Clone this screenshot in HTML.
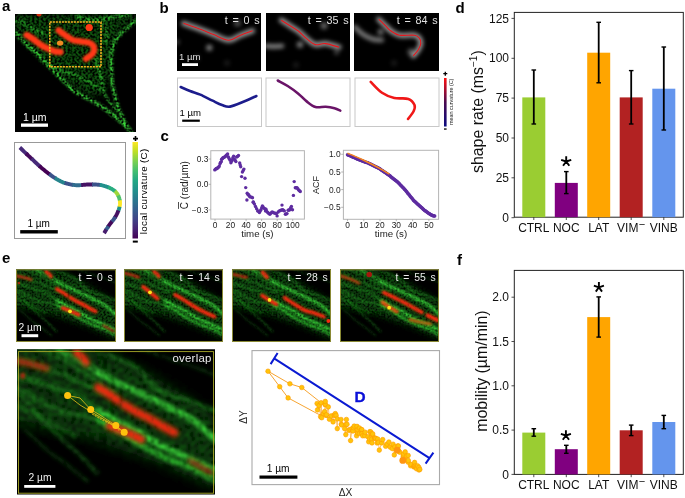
<!DOCTYPE html><html><head><meta charset="utf-8"><style>html,body{margin:0;padding:0;background:#fff;width:685px;height:498px;overflow:hidden}svg{display:block;will-change:transform}text{font-family:'Liberation Sans',sans-serif}</style></head><body>
<svg width="685" height="498" viewBox="0 0 685 498">
<defs>
<filter id="b05" filterUnits="userSpaceOnUse" x="-1000" y="-1000" width="3000" height="3000"><feGaussianBlur stdDeviation="0.6"/></filter>
<filter id="b1" filterUnits="userSpaceOnUse" x="-1000" y="-1000" width="3000" height="3000"><feGaussianBlur stdDeviation="1"/></filter>
<filter id="b15" filterUnits="userSpaceOnUse" x="-1000" y="-1000" width="3000" height="3000"><feGaussianBlur stdDeviation="1.5"/></filter>
<filter id="b2" filterUnits="userSpaceOnUse" x="-1000" y="-1000" width="3000" height="3000"><feGaussianBlur stdDeviation="2"/></filter>
<filter id="b3" filterUnits="userSpaceOnUse" x="-1000" y="-1000" width="3000" height="3000"><feGaussianBlur stdDeviation="3"/></filter>
<filter id="grain" filterUnits="userSpaceOnUse" x="-1000" y="-1000" width="3000" height="3000"><feTurbulence type="fractalNoise" baseFrequency="0.45" numOctaves="1" seed="4" result="n"/><feColorMatrix in="n" type="matrix" values="0 0 0 0 0  0 0 0 0 0  0 0 0 0 0  0 0 0 2.8 -0.85" result="na"/><feComposite in="SourceGraphic" in2="na" operator="in" result="c"/><feGaussianBlur in="c" stdDeviation="0.45"/></filter>
<filter id="grain2" filterUnits="userSpaceOnUse" x="-1000" y="-1000" width="3000" height="3000"><feTurbulence type="fractalNoise" baseFrequency="0.5" numOctaves="1" seed="9" result="n"/><feColorMatrix in="n" type="matrix" values="0 0 0 0 0  0 0 0 0 0  0 0 0 0 0  0 0 0 1.6 -0.1" result="na"/><feComposite in="SourceGraphic" in2="na" operator="in" result="c"/><feGaussianBlur in="c" stdDeviation="0.5"/></filter>
<filter id="b08" filterUnits="userSpaceOnUse" x="-1000" y="-1000" width="3000" height="3000"><feGaussianBlur stdDeviation="0.8"/></filter>
<filter id="grain3" filterUnits="userSpaceOnUse" x="-1000" y="-1000" width="3000" height="3000"><feTurbulence type="fractalNoise" baseFrequency="0.5" numOctaves="1" seed="2" result="n"/><feColorMatrix in="n" type="matrix" values="0 0 0 0 0  0 0 0 0 0  0 0 0 0 0  0 0 0 2.2 -0.45" result="na"/><feComposite in="SourceGraphic" in2="na" operator="in" result="c"/><feGaussianBlur in="c" stdDeviation="0.7"/></filter>
<filter id="grain4" filterUnits="userSpaceOnUse" x="-1000" y="-1000" width="3000" height="3000"><feTurbulence type="fractalNoise" baseFrequency="0.5" numOctaves="1" seed="12" result="n"/><feColorMatrix in="n" type="matrix" values="0 0 0 0 0  0 0 0 0 0  0 0 0 0 0  0 0 0 1.2 0.5" result="na"/><feComposite in="SourceGraphic" in2="na" operator="in" result="c"/><feGaussianBlur in="c" stdDeviation="0.4"/></filter>
<linearGradient id="vir" x1="0" y1="1" x2="0" y2="0"><stop offset="0.0" stop-color="#440154"/><stop offset="0.1" stop-color="#482475"/><stop offset="0.2" stop-color="#414487"/><stop offset="0.3" stop-color="#355f8d"/><stop offset="0.4" stop-color="#2a788e"/><stop offset="0.5" stop-color="#21918c"/><stop offset="0.6" stop-color="#22a884"/><stop offset="0.7" stop-color="#44bf70"/><stop offset="0.8" stop-color="#7ad151"/><stop offset="0.9" stop-color="#bddf26"/><stop offset="1.0" stop-color="#fde725"/></linearGradient>
<linearGradient id="rb" x1="0" y1="1" x2="0" y2="0"><stop offset="0" stop-color="#0a0a80"/><stop offset="0.5" stop-color="#4a0a50"/><stop offset="1" stop-color="#ff1010"/></linearGradient>
<clipPath id="ca"><rect x="15" y="14" width="121" height="118"/></clipPath>
<clipPath id="cb1"><rect x="177" y="13" width="84" height="58"/></clipPath>
<clipPath id="cb2"><rect x="266" y="13" width="84" height="58"/></clipPath>
<clipPath id="cb3"><rect x="354" y="13" width="85" height="58"/></clipPath>
<clipPath id="ce1"><rect x="16" y="269.3" width="100" height="72.7"/></clipPath>
<clipPath id="ce2"><rect x="124" y="269.3" width="99" height="72.7"/></clipPath>
<clipPath id="ce3"><rect x="232" y="269.3" width="99" height="72.7"/></clipPath>
<clipPath id="ce4"><rect x="340" y="269.3" width="99" height="72.7"/></clipPath>
<clipPath id="ceo"><rect x="17" y="349.3" width="198" height="145.3"/></clipPath>
</defs>
<text x="2" y="11" font-size="15" text-anchor="start" font-weight="bold" fill="#000" >a</text>
<text x="159.5" y="13" font-size="15" text-anchor="start" font-weight="bold" fill="#000" >b</text>
<text x="160.5" y="141.3" font-size="15" text-anchor="start" font-weight="bold" fill="#000" >c</text>
<text x="455.5" y="12.5" font-size="15" text-anchor="start" font-weight="bold" fill="#000" >d</text>
<text x="2" y="263" font-size="15" text-anchor="start" font-weight="bold" fill="#000" >e</text>
<text x="457" y="264.5" font-size="15" text-anchor="start" font-weight="bold" fill="#000" >f</text>
<g clip-path="url(#ca)"><rect x="15" y="14" width="121" height="118" fill="#000"/>
<g transform="translate(15,14)">
<g filter="url(#grain)"><polygon points="0,0 121,0 121,5 106,14 98,30 95,50 93,70 88,80 76,82 58,72 40,57 20,38 0,16" fill="#105210" filter="url(#b3)"/></g>
<g filter="url(#grain)">
<path d="M0.50,18.30C2.08,20.08 6.50,25.48 10.00,29.00C13.50,32.52 18.00,36.07 21.50,39.40C25.00,42.73 27.72,45.72 31.00,49.00C34.28,52.28 38.03,55.93 41.20,59.10C44.37,62.27 47.18,65.18 50.00,68.00C52.82,70.82 55.10,73.67 58.10,76.00C61.10,78.33 64.72,80.13 68.00,82.00C71.28,83.87 74.80,85.53 77.80,87.20C80.80,88.87 83.20,90.12 86.00,92.00C88.80,93.88 91.77,96.33 94.60,98.50C97.43,100.67 100.18,102.67 103.00,105.00C105.82,107.33 109.17,110.17 111.50,112.50C113.83,114.83 116.08,117.92 117.00,119.00" stroke="#3ee03e" stroke-width="3.75" fill="none" filter="url(#b08)"/>
<path d="M121.00,6.00C119.50,7.33 115.00,11.25 112.00,14.00C109.00,16.75 105.33,19.50 103.00,22.50C100.67,25.50 99.17,28.75 98.00,32.00C96.83,35.25 96.25,38.17 96.00,42.00C95.75,45.83 96.25,50.33 96.50,55.00C96.75,59.67 96.92,65.50 97.50,70.00C98.08,74.50 99.08,78.17 100.00,82.00C100.92,85.83 101.67,89.33 103.00,93.00C104.33,96.67 106.58,100.75 108.00,104.00C109.42,107.25 110.92,111.08 111.50,112.50" stroke="#3ee03e" stroke-width="3.25" fill="none" filter="url(#b08)"/>
<path d="M80.60,42.20C81.00,43.83 82.10,48.37 83.00,52.00C83.90,55.63 85.00,59.53 86.00,64.00C87.00,68.47 87.33,74.47 89.00,78.80C90.67,83.13 93.67,86.72 96.00,90.00C98.33,93.28 101.83,97.08 103.00,98.50" stroke="#30c030" stroke-width="2.50" fill="none" filter="url(#b08)"/>
<path d="M25.00,46.00C27.17,47.17 33.83,51.00 38.00,53.00C42.17,55.00 46.00,56.50 50.00,58.00C54.00,59.50 57.83,60.33 62.00,62.00C66.17,63.67 71.17,65.67 75.00,68.00C78.83,70.33 83.33,74.67 85.00,76.00" stroke="#2aa82a" stroke-width="2.50" fill="none" filter="url(#b08)"/>
<path d="M0.00,6.00C1.67,6.67 6.67,8.33 10.00,10.00C13.33,11.67 16.67,14.33 20.00,16.00C23.33,17.67 28.33,19.33 30.00,20.00" stroke="#2aa82a" stroke-width="3.00" fill="none" filter="url(#b08)"/>
<path d="M60.00,2.00C62.50,2.67 70.33,5.50 75.00,6.00C79.67,6.50 83.83,5.50 88.00,5.00C92.17,4.50 95.50,3.83 100.00,3.00C104.50,2.17 112.50,0.50 115.00,0.00" stroke="#30c030" stroke-width="3.00" fill="none" filter="url(#b08)"/>
<path d="M88.00,8.00C88.67,10.00 91.67,16.33 92.00,20.00C92.33,23.67 90.33,28.33 90.00,30.00" stroke="#2aa82a" stroke-width="2.50" fill="none" filter="url(#b08)"/>
</g>
<path d="M11.70,21.10C12.75,21.75 15.62,23.35 18.00,25.00C20.38,26.65 23.33,29.33 26.00,31.00C28.67,32.67 31.67,33.92 34.00,35.00C36.33,36.08 38.10,37.00 40.00,37.50C41.90,38.00 44.50,37.92 45.40,38.00" stroke="#ff3812" stroke-width="6.5" stroke-linecap="round" stroke-linejoin="round" fill="none" filter="url(#b1)"/>
<path d="M43.60,16.30C44.68,17.12 47.68,19.57 50.10,21.20C52.52,22.83 55.27,25.03 58.10,26.10C60.93,27.17 64.25,27.07 67.10,27.60C69.95,28.13 73.18,28.22 75.20,29.30C77.22,30.38 78.87,32.30 79.20,34.10C79.53,35.90 78.57,38.32 77.20,40.10C75.83,41.88 72.03,44.02 71.00,44.80" stroke="#ff3812" stroke-width="6.3" stroke-linecap="round" stroke-linejoin="round" fill="none" filter="url(#b1)"/>
<circle cx="74.2" cy="13.5" r="3.6" fill="#ff3812" filter="url(#b05)"/>
<ellipse cx="45.1" cy="29.1" rx="3.2" ry="2.7" fill="#f08a20" filter="url(#b05)"/>
<circle cx="24" cy="0" r="2.5" fill="#d02a10" filter="url(#b05)"/>
</g>
<rect x="49.8" y="22" width="51.2" height="44.7" fill="none" stroke="#f2b020" stroke-width="1.6" stroke-dasharray="2.1,0.9"/>
<text x="23" y="120.6" font-size="10.5" text-anchor="start" font-weight="normal" fill="#fff" >1 µm</text>
<rect x="21" y="123.5" width="27" height="3.3" fill="#fff"/>
</g>
<rect x="14.5" y="142.5" width="111" height="96" fill="#fff" stroke="#999" stroke-width="1"/>
<polyline points="19.8,147.5 20.4,148.0 21.1,148.7 21.9,149.5 22.8,150.4 23.8,151.4 24.9,152.4 26.0,153.4 26.0,153.4 27.2,154.5" stroke="#472a79" stroke-width="3.9" stroke-linejoin="round" fill="none"/>
<polyline points="26.0,153.4 27.2,154.5 28.3,155.6 29.4,156.6 30.5,157.7 31.5,158.6 31.5,158.6 32.5,159.5" stroke="#45085b" stroke-width="3.9" stroke-linejoin="round" fill="none"/>
<polyline points="31.5,158.6 32.5,159.5 33.5,160.4 34.4,161.3 35.4,162.3 36.4,163.2 37.4,164.1 38.3,165.0 39.3,165.9 39.3,165.9 40.3,166.8" stroke="#472a79" stroke-width="3.9" stroke-linejoin="round" fill="none"/>
<polyline points="39.3,165.9 40.3,166.8 41.2,167.6 42.2,168.5 43.2,169.3 44.2,170.1 45.2,170.9 46.2,171.7 47.2,172.5 48.2,173.3 49.2,174.0 49.2,174.0 50.2,174.7" stroke="#440154" stroke-width="3.9" stroke-linejoin="round" fill="none"/>
<polyline points="49.2,174.0 50.2,174.7 51.1,175.5 52.1,176.1 53.1,176.8 54.0,177.4 54.9,178.0 54.9,178.0 55.8,178.5" stroke="#3b528a" stroke-width="3.9" stroke-linejoin="round" fill="none"/>
<polyline points="54.9,178.0 55.8,178.5 56.6,179.1 57.4,179.6 58.2,180.0 59.0,180.4 59.8,180.8 60.5,181.2 61.3,181.6 62.1,181.9 62.9,182.3 63.7,182.6 64.6,182.9 64.6,182.9 65.5,183.2" stroke="#26848d" stroke-width="3.9" stroke-linejoin="round" fill="none"/>
<polyline points="64.6,182.9 65.5,183.2 66.4,183.5 67.4,183.7 68.4,184.0 69.3,184.2 70.3,184.4 71.3,184.6 72.3,184.8 72.3,184.8 73.3,184.9" stroke="#3b528a" stroke-width="3.9" stroke-linejoin="round" fill="none"/>
<polyline points="72.3,184.8 73.3,184.9 74.3,185.0 75.3,185.1 76.3,185.2 77.3,185.2 78.2,185.2 79.2,185.2 80.2,185.1 81.2,185.1 81.2,185.1 82.2,185.0" stroke="#306c8e" stroke-width="3.9" stroke-linejoin="round" fill="none"/>
<polyline points="81.2,185.1 82.2,185.0 83.1,184.9 84.1,184.8 85.1,184.7 86.0,184.6 87.0,184.5 88.0,184.5 89.0,184.5 90.0,184.5 91.0,184.5 92.0,184.5 92.0,184.5 93.0,184.5" stroke="#461264" stroke-width="3.9" stroke-linejoin="round" fill="none"/>
<polyline points="92.0,184.5 93.0,184.5 94.0,184.5 95.0,184.5 95.9,184.5 96.9,184.6 97.9,184.7 98.8,184.8 99.7,184.9 99.7,184.9 100.6,185.0" stroke="#3b528a" stroke-width="3.9" stroke-linejoin="round" fill="none"/>
<polyline points="99.7,184.9 100.6,185.0 101.5,185.2 102.3,185.4 103.2,185.6 104.0,185.8 104.9,186.1 105.7,186.3 106.4,186.6 107.2,186.9 108.0,187.2 108.0,187.2 108.7,187.5" stroke="#21918c" stroke-width="3.9" stroke-linejoin="round" fill="none"/>
<polyline points="108.0,187.2 108.7,187.5 109.4,187.8 110.1,188.1 110.8,188.5 111.4,188.8 112.0,189.1 112.6,189.5 113.2,189.9 113.8,190.3 114.4,190.7 114.9,191.1 114.9,191.1 115.4,191.6" stroke="#29ad80" stroke-width="3.9" stroke-linejoin="round" fill="none"/>
<polyline points="114.9,191.1 115.4,191.6 115.9,192.1 116.3,192.6 116.7,193.1 117.1,193.7 117.5,194.3 117.9,195.0 118.2,195.6 118.2,195.6 118.5,196.3" stroke="#9cd83c" stroke-width="3.9" stroke-linejoin="round" fill="none"/>
<polyline points="118.2,195.6 118.5,196.3 118.8,197.0 119.1,197.7 119.3,198.4 119.5,199.1 119.7,199.7 119.8,200.4 119.8,200.4 119.9,201.0" stroke="#4fc36a" stroke-width="3.9" stroke-linejoin="round" fill="none"/>
<polyline points="119.8,200.4 119.9,201.0 120.0,201.7 120.0,202.3 120.0,203.0 120.0,203.6 120.0,204.2 119.9,204.9 119.8,205.5 119.7,206.2 119.5,206.8 119.5,206.8 119.4,207.5" stroke="#fde725" stroke-width="3.9" stroke-linejoin="round" fill="none"/>
<polyline points="119.5,206.8 119.4,207.5 119.2,208.2 119.0,208.9 118.8,209.6 118.5,210.4 118.5,210.4 118.2,211.1" stroke="#21918c" stroke-width="3.9" stroke-linejoin="round" fill="none"/>
<polyline points="118.5,210.4 118.2,211.1 117.9,211.8 117.6,212.6 117.2,213.4 116.9,214.1 116.5,214.8 116.1,215.6 115.7,216.3 115.3,217.0 115.3,217.0 114.9,217.7" stroke="#461264" stroke-width="3.9" stroke-linejoin="round" fill="none"/>
<polyline points="115.3,217.0 114.9,217.7 114.4,218.4 114.0,219.0 113.5,219.7 113.0,220.3 112.4,220.9 111.9,221.6 111.9,221.6 111.4,222.2" stroke="#3b528a" stroke-width="3.9" stroke-linejoin="round" fill="none"/>
<polyline points="111.9,221.6 111.4,222.2 110.9,222.8 110.4,223.5 109.9,224.1 109.4,224.8 108.9,225.5 108.4,226.3 108.4,226.3 107.9,227.1" stroke="#45085b" stroke-width="3.9" stroke-linejoin="round" fill="none"/>
<polyline points="108.4,226.3 107.9,227.1 107.4,227.9 106.8,228.7 106.3,229.5 106.3,229.5 105.8,230.3" stroke="#355f8d" stroke-width="3.9" stroke-linejoin="round" fill="none"/>
<polyline points="106.3,229.5 105.8,230.3 105.4,231.0 105.0,231.7 104.6,232.3 104.3,232.8 104.0,233.2" stroke="#471d6e" stroke-width="3.9" stroke-linejoin="round" fill="none"/>
<text x="27.5" y="227.1" font-size="10" text-anchor="start" font-weight="normal" fill="#000" >1 µm</text>
<rect x="20.2" y="230.1" width="37.6" height="3.4" fill="#000"/>
<rect x="132.5" y="142" width="5.5" height="96.5" fill="url(#vir)"/>
<path d="M133,138.6h5M135.5,136.1v5" stroke="#000" stroke-width="1.6"/>
<rect x="132.8" y="240.6" width="5" height="2" fill="#000"/>
<text x="0" y="0" font-size="9.8" text-anchor="middle" font-weight="normal" fill="#000" letter-spacing="0.3" transform="translate(147.1,191.4) rotate(-90)">local curvature (C)</text>
<g clip-path="url(#cb1)"><rect x="177" y="13" width="84" height="58" fill="#000"/>
<g transform="translate(177,13)">
<circle cx="32.3" cy="34.8" r="3" fill="#fff" opacity="0.55" filter="url(#b2)"/>
<circle cx="60.5" cy="10.3" r="3.5" fill="#fff" opacity="0.3" filter="url(#b2)"/>
<circle cx="0" cy="29" r="2.5" fill="#fff" opacity="0.3" filter="url(#b2)"/>
<circle cx="20" cy="45" r="3" fill="#fff" opacity="0.12" filter="url(#b2)"/>
<circle cx="50" cy="50" r="3" fill="#fff" opacity="0.1" filter="url(#b2)"/>
<path d="M6.50,10.30C9.43,11.35 19.07,14.72 24.10,16.60C29.13,18.48 32.10,19.83 36.70,21.60C41.30,23.37 47.32,27.05 51.70,27.20C56.08,27.35 59.02,24.07 63.00,22.50C66.98,20.93 73.50,18.58 75.60,17.80" stroke="#fff" stroke-opacity="0.62" stroke-width="5" stroke-linecap="round" fill="none" filter="url(#b2)"/>
<path d="M6.50,10.30C9.43,11.35 19.07,14.72 24.10,16.60C29.13,18.48 32.10,19.83 36.70,21.60C41.30,23.37 47.32,27.05 51.70,27.20C56.08,27.35 59.02,24.07 63.00,22.50C66.98,20.93 73.50,18.58 75.60,17.80" stroke="#e8161c" stroke-width="1.1" fill="none"/>
</g>
<text x="259.6" y="23.6" font-size="10.8" word-spacing="1.7" text-anchor="end" fill="#e0e0e0">t = 0 s</text>
</g>
<g clip-path="url(#cb2)"><rect x="266" y="13" width="84" height="58" fill="#000"/>
<g transform="translate(266,13)">
<circle cx="34" cy="31.6" r="3.2" fill="#fff" opacity="0.5" filter="url(#b2)"/>
<circle cx="58" cy="12.8" r="3.5" fill="#fff" opacity="0.4" filter="url(#b2)"/>
<circle cx="70.6" cy="39.2" r="2.5" fill="#fff" opacity="0.3" filter="url(#b2)"/>
<circle cx="30" cy="52" r="3" fill="#fff" opacity="0.1" filter="url(#b2)"/>
<path d="M0.00,33.00C1.33,33.08 5.33,33.50 8.00,33.50C10.67,33.50 14.67,33.08 16.00,33.00" stroke="#fff" stroke-opacity="0.55" stroke-width="4.5" stroke-linecap="round" fill="none" filter="url(#b2)"/>
<path d="M15.30,7.20C16.77,8.13 21.17,10.92 24.10,12.80C27.03,14.68 30.18,16.40 32.90,18.50C35.62,20.60 37.68,23.22 40.40,25.40C43.12,27.58 46.05,30.73 49.20,31.60C52.35,32.47 55.32,30.17 59.30,30.60C63.28,31.03 70.80,33.60 73.10,34.20" stroke="#fff" stroke-opacity="0.62" stroke-width="5" stroke-linecap="round" fill="none" filter="url(#b2)"/>
<path d="M15.30,7.20C16.77,8.13 21.17,10.92 24.10,12.80C27.03,14.68 30.18,16.40 32.90,18.50C35.62,20.60 37.68,23.22 40.40,25.40C43.12,27.58 46.05,30.73 49.20,31.60C52.35,32.47 55.32,30.17 59.30,30.60C63.28,31.03 70.80,33.60 73.10,34.20" stroke="#e8161c" stroke-width="1.1" fill="none"/>
</g>
<text x="348.6" y="23.6" font-size="10.8" word-spacing="1.7" text-anchor="end" fill="#e0e0e0">t = 35 s</text>
</g>
<g clip-path="url(#cb3)"><rect x="354" y="13" width="85" height="58" fill="#000"/>
<g transform="translate(354,13)">
<circle cx="26.6" cy="18.9" r="3" fill="#fff" opacity="0.45" filter="url(#b2)"/>
<circle cx="57" cy="39" r="3.5" fill="#fff" opacity="0.35" filter="url(#b2)"/>
<circle cx="40" cy="50" r="3" fill="#fff" opacity="0.1" filter="url(#b2)"/>
<path d="M1.00,14.00C1.83,14.83 4.23,17.48 6.00,19.00C7.77,20.52 9.27,21.85 11.60,23.10C13.93,24.35 17.28,25.87 20.00,26.50C22.72,27.13 26.58,26.83 27.90,26.90" stroke="#fff" stroke-opacity="0.5" stroke-width="4.5" stroke-linecap="round" fill="none" filter="url(#b2)"/>
<path d="M24.70,6.30C25.85,7.38 29.60,10.88 31.60,12.80C33.60,14.72 34.38,16.23 36.70,17.80C39.02,19.37 41.53,21.47 45.50,22.20C49.47,22.93 57.17,21.67 60.50,22.20C63.83,22.73 64.45,24.03 65.50,25.40C66.55,26.77 67.00,28.52 66.80,30.40C66.60,32.28 65.55,34.62 64.30,36.70C63.05,38.78 60.13,41.87 59.30,42.90" stroke="#fff" stroke-opacity="0.62" stroke-width="5" stroke-linecap="round" fill="none" filter="url(#b2)"/>
<path d="M24.70,6.30C25.85,7.38 29.60,10.88 31.60,12.80C33.60,14.72 34.38,16.23 36.70,17.80C39.02,19.37 41.53,21.47 45.50,22.20C49.47,22.93 57.17,21.67 60.50,22.20C63.83,22.73 64.45,24.03 65.50,25.40C66.55,26.77 67.00,28.52 66.80,30.40C66.60,32.28 65.55,34.62 64.30,36.70C63.05,38.78 60.13,41.87 59.30,42.90" stroke="#e8161c" stroke-width="1.1" fill="none"/>
</g>
<text x="437.6" y="23.6" font-size="10.8" word-spacing="1.7" text-anchor="end" fill="#e0e0e0">t = 84 s</text>
</g>
<text x="179" y="60" font-size="9.6" text-anchor="start" font-weight="normal" fill="#ddd" >1 µm</text>
<rect x="182" y="63.2" width="16" height="2.8" fill="#fff"/>
<rect x="177.5" y="78" width="84" height="48.5" fill="#fff" stroke="#c8c8c8" stroke-width="1"/>
<rect x="266.0" y="78" width="84" height="48.5" fill="#fff" stroke="#c8c8c8" stroke-width="1"/>
<rect x="355.0" y="78" width="84" height="48.5" fill="#fff" stroke="#c8c8c8" stroke-width="1"/>
<path d="M180.70,87.00C182.25,87.67 186.73,89.73 190.00,91.00C193.27,92.27 196.53,92.98 200.30,94.60C204.07,96.22 208.98,98.97 212.60,100.70C216.22,102.43 219.10,104.02 222.00,105.00C224.90,105.98 226.33,107.18 230.00,106.60C233.67,106.02 239.60,103.27 244.00,101.50C248.40,99.73 254.33,96.92 256.40,96.00" stroke="#1c1c8c" stroke-width="2.6" stroke-linecap="round" fill="none"/>
<path d="M277.80,80.50C279.45,81.42 284.33,83.85 287.70,86.00C291.07,88.15 294.83,90.83 298.00,93.40C301.17,95.97 303.78,99.13 306.70,101.40C309.62,103.67 312.33,106.10 315.50,107.00C318.67,107.90 322.53,106.60 325.70,106.80C328.87,107.00 332.07,107.57 334.50,108.20C336.93,108.83 339.33,110.20 340.30,110.60" stroke="#6a1468" stroke-width="2.6" stroke-linecap="round" fill="none"/>
<path d="M370.70,81.90C372.58,83.72 378.07,90.12 382.00,92.80C385.93,95.48 389.92,96.98 394.30,98.00C398.68,99.02 404.93,97.73 408.30,98.90C411.67,100.07 413.62,102.95 414.50,105.00C415.38,107.05 414.68,108.87 413.60,111.20C412.52,113.53 408.93,117.70 408.00,119.00" stroke="#f01818" stroke-width="2.6" stroke-linecap="round" fill="none"/>
<text x="179.6" y="116.3" font-size="9.6" text-anchor="start" font-weight="normal" fill="#000" >1 µm</text>
<rect x="182.2" y="119.6" width="17.6" height="2.2" fill="#000"/>
<rect x="444" y="78" width="2.6" height="48.5" fill="url(#rb)"/>
<path d="M443.3,73.7h4M445.3,71.7v4" stroke="#000" stroke-width="1.3"/>
<rect x="444" y="128.4" width="2.6" height="1.3" fill="#000"/>
<text x="0" y="0" font-size="5.4" text-anchor="middle" font-weight="normal" fill="#222" transform="translate(453.4,101.8) rotate(-90)">mean curvature (C)</text>
<rect x="210.8" y="150.7" width="93.6" height="68.4" fill="none" stroke="#b4b4b4" stroke-width="1"/>
<line x1="208.6" y1="159" x2="210.8" y2="159" stroke="#999" stroke-width="0.7"/>
<text x="208.3" y="161.95" font-size="8.4" text-anchor="end" font-weight="normal" fill="#222" >0.3</text>
<line x1="208.6" y1="184.3" x2="210.8" y2="184.3" stroke="#999" stroke-width="0.7"/>
<text x="208.3" y="187.25" font-size="8.4" text-anchor="end" font-weight="normal" fill="#222" >0.0</text>
<line x1="208.6" y1="209.9" x2="210.8" y2="209.9" stroke="#999" stroke-width="0.7"/>
<text x="208.3" y="212.85" font-size="8.4" text-anchor="end" font-weight="normal" fill="#222" >−0.3</text>
<line x1="215.0" y1="219.1" x2="215.0" y2="221" stroke="#999" stroke-width="0.7"/>
<text x="215.0" y="227.6" font-size="8.4" text-anchor="middle" font-weight="normal" fill="#222" >0</text>
<line x1="230.5" y1="219.1" x2="230.5" y2="221" stroke="#999" stroke-width="0.7"/>
<text x="230.5" y="227.6" font-size="8.4" text-anchor="middle" font-weight="normal" fill="#222" >20</text>
<line x1="246.1" y1="219.1" x2="246.1" y2="221" stroke="#999" stroke-width="0.7"/>
<text x="246.1" y="227.6" font-size="8.4" text-anchor="middle" font-weight="normal" fill="#222" >40</text>
<line x1="261.6" y1="219.1" x2="261.6" y2="221" stroke="#999" stroke-width="0.7"/>
<text x="261.6" y="227.6" font-size="8.4" text-anchor="middle" font-weight="normal" fill="#222" >60</text>
<line x1="277.2" y1="219.1" x2="277.2" y2="221" stroke="#999" stroke-width="0.7"/>
<text x="277.2" y="227.6" font-size="8.4" text-anchor="middle" font-weight="normal" fill="#222" >80</text>
<line x1="292.7" y1="219.1" x2="292.7" y2="221" stroke="#999" stroke-width="0.7"/>
<text x="292.7" y="227.6" font-size="8.4" text-anchor="middle" font-weight="normal" fill="#222" >100</text>
<text x="257.4" y="237" font-size="9.7" text-anchor="middle" font-weight="normal" fill="#222" >time (s)</text>
<g transform="translate(188,185.2) rotate(-90)"><text x="0" y="0" font-size="10" text-anchor="middle" fill="#222">C (rad/µm)</text><line x1="-23.7" y1="-9.5" x2="-16.8" y2="-9.5" stroke="#222" stroke-width="0.8"/></g>
<circle cx="214.8" cy="169.9" r="1.7" fill="#5e2ca0"/>
<circle cx="215.5" cy="169.2" r="1.7" fill="#5e2ca0"/>
<circle cx="216.3" cy="168.4" r="1.7" fill="#5e2ca0"/>
<circle cx="217.2" cy="168.5" r="1.7" fill="#5e2ca0"/>
<circle cx="217.8" cy="167.6" r="1.7" fill="#5e2ca0"/>
<circle cx="218.5" cy="167.2" r="1.7" fill="#5e2ca0"/>
<circle cx="219.3" cy="166.1" r="1.7" fill="#5e2ca0"/>
<circle cx="220" cy="163.8" r="1.7" fill="#5e2ca0"/>
<circle cx="220.6" cy="162.5" r="1.7" fill="#5e2ca0"/>
<circle cx="221.3" cy="161.6" r="1.7" fill="#5e2ca0"/>
<circle cx="221.6" cy="159.3" r="1.7" fill="#5e2ca0"/>
<circle cx="222.3" cy="158.7" r="1.7" fill="#5e2ca0"/>
<circle cx="223" cy="157.8" r="1.7" fill="#5e2ca0"/>
<circle cx="223.8" cy="157.5" r="1.7" fill="#5e2ca0"/>
<circle cx="224.6" cy="157" r="1.7" fill="#5e2ca0"/>
<circle cx="225.4" cy="156.4" r="1.7" fill="#5e2ca0"/>
<circle cx="226.1" cy="155.5" r="1.7" fill="#5e2ca0"/>
<circle cx="226.8" cy="155" r="1.7" fill="#5e2ca0"/>
<circle cx="227.6" cy="154" r="1.7" fill="#5e2ca0"/>
<circle cx="228.4" cy="157" r="1.7" fill="#5e2ca0"/>
<circle cx="229.1" cy="158.5" r="1.7" fill="#5e2ca0"/>
<circle cx="229.9" cy="160" r="1.7" fill="#5e2ca0"/>
<circle cx="230.9" cy="162.8" r="1.7" fill="#5e2ca0"/>
<circle cx="231.5" cy="161.2" r="1.7" fill="#5e2ca0"/>
<circle cx="232.1" cy="160" r="1.7" fill="#5e2ca0"/>
<circle cx="232.8" cy="158" r="1.7" fill="#5e2ca0"/>
<circle cx="233.6" cy="156.3" r="1.7" fill="#5e2ca0"/>
<circle cx="234.4" cy="159.3" r="1.7" fill="#5e2ca0"/>
<circle cx="235.2" cy="160.5" r="1.7" fill="#5e2ca0"/>
<circle cx="235.9" cy="161.6" r="1.7" fill="#5e2ca0"/>
<circle cx="236.6" cy="157" r="1.7" fill="#5e2ca0"/>
<circle cx="237.5" cy="156.5" r="1.7" fill="#5e2ca0"/>
<circle cx="238.5" cy="155.5" r="1.7" fill="#5e2ca0"/>
<circle cx="239.7" cy="163" r="1.7" fill="#5e2ca0"/>
<circle cx="240.2" cy="165" r="1.7" fill="#5e2ca0"/>
<circle cx="240.7" cy="166.8" r="1.7" fill="#5e2ca0"/>
<circle cx="241.6" cy="176.6" r="1.7" fill="#5e2ca0"/>
<circle cx="242.4" cy="172.1" r="1.7" fill="#5e2ca0"/>
<circle cx="243.2" cy="170.5" r="1.7" fill="#5e2ca0"/>
<circle cx="243.9" cy="169.1" r="1.7" fill="#5e2ca0"/>
<circle cx="245" cy="178.2" r="1.7" fill="#5e2ca0"/>
<circle cx="245.7" cy="187.6" r="1.7" fill="#5e2ca0"/>
<circle cx="246.9" cy="200" r="1.7" fill="#5e2ca0"/>
<circle cx="247.2" cy="193.2" r="1.7" fill="#5e2ca0"/>
<circle cx="247.9" cy="194.5" r="1.7" fill="#5e2ca0"/>
<circle cx="248.7" cy="194.7" r="1.7" fill="#5e2ca0"/>
<circle cx="249.5" cy="196.2" r="1.7" fill="#5e2ca0"/>
<circle cx="250.2" cy="197" r="1.7" fill="#5e2ca0"/>
<circle cx="251.7" cy="197.1" r="1.7" fill="#5e2ca0"/>
<circle cx="252.5" cy="197.7" r="1.7" fill="#5e2ca0"/>
<circle cx="253.2" cy="202.3" r="1.7" fill="#5e2ca0"/>
<circle cx="253.3" cy="202" r="1.7" fill="#5e2ca0"/>
<circle cx="254.4" cy="204" r="1.7" fill="#5e2ca0"/>
<circle cx="255.5" cy="206.5" r="1.7" fill="#5e2ca0"/>
<circle cx="256.6" cy="208.7" r="1.7" fill="#5e2ca0"/>
<circle cx="257.7" cy="210.9" r="1.7" fill="#5e2ca0"/>
<circle cx="258.5" cy="211.3" r="1.7" fill="#5e2ca0"/>
<circle cx="259.4" cy="212.5" r="1.7" fill="#5e2ca0"/>
<circle cx="260.2" cy="211" r="1.7" fill="#5e2ca0"/>
<circle cx="261" cy="209.8" r="1.7" fill="#5e2ca0"/>
<circle cx="261.7" cy="207.8" r="1.7" fill="#5e2ca0"/>
<circle cx="262.4" cy="205.9" r="1.7" fill="#5e2ca0"/>
<circle cx="263.1" cy="207" r="1.7" fill="#5e2ca0"/>
<circle cx="263.8" cy="208.1" r="1.7" fill="#5e2ca0"/>
<circle cx="264.8" cy="208.8" r="1.7" fill="#5e2ca0"/>
<circle cx="265.5" cy="210.9" r="1.7" fill="#5e2ca0"/>
<circle cx="266" cy="209.2" r="1.7" fill="#5e2ca0"/>
<circle cx="266.8" cy="211.5" r="1.7" fill="#5e2ca0"/>
<circle cx="267.7" cy="212.5" r="1.7" fill="#5e2ca0"/>
<circle cx="268.8" cy="213.5" r="1.7" fill="#5e2ca0"/>
<circle cx="269.9" cy="214.2" r="1.7" fill="#5e2ca0"/>
<circle cx="271" cy="213" r="1.7" fill="#5e2ca0"/>
<circle cx="272.1" cy="212" r="1.7" fill="#5e2ca0"/>
<circle cx="273.2" cy="212.5" r="1.7" fill="#5e2ca0"/>
<circle cx="274.3" cy="213.1" r="1.7" fill="#5e2ca0"/>
<circle cx="275.4" cy="213.3" r="1.7" fill="#5e2ca0"/>
<circle cx="276.5" cy="213.6" r="1.7" fill="#5e2ca0"/>
<circle cx="277.1" cy="215.9" r="1.7" fill="#5e2ca0"/>
<circle cx="278.2" cy="212" r="1.7" fill="#5e2ca0"/>
<circle cx="279.3" cy="210.9" r="1.7" fill="#5e2ca0"/>
<circle cx="280.4" cy="210.5" r="1.7" fill="#5e2ca0"/>
<circle cx="281.5" cy="210" r="1.7" fill="#5e2ca0"/>
<circle cx="282" cy="205.1" r="1.7" fill="#5e2ca0"/>
<circle cx="282.6" cy="209.8" r="1.7" fill="#5e2ca0"/>
<circle cx="283.4" cy="210.2" r="1.7" fill="#5e2ca0"/>
<circle cx="284.3" cy="210.9" r="1.7" fill="#5e2ca0"/>
<circle cx="285.4" cy="214.2" r="1.7" fill="#5e2ca0"/>
<circle cx="286.2" cy="213.9" r="1.7" fill="#5e2ca0"/>
<circle cx="287" cy="213.6" r="1.7" fill="#5e2ca0"/>
<circle cx="288.1" cy="210.3" r="1.7" fill="#5e2ca0"/>
<circle cx="289" cy="210" r="1.7" fill="#5e2ca0"/>
<circle cx="289.8" cy="209.8" r="1.7" fill="#5e2ca0"/>
<circle cx="290.6" cy="208" r="1.7" fill="#5e2ca0"/>
<circle cx="291.4" cy="206.5" r="1.7" fill="#5e2ca0"/>
<circle cx="292.5" cy="209.8" r="1.7" fill="#5e2ca0"/>
<circle cx="293.4" cy="195.4" r="1.7" fill="#5e2ca0"/>
<circle cx="294.2" cy="181.6" r="1.7" fill="#5e2ca0"/>
<circle cx="295.3" cy="187.7" r="1.7" fill="#5e2ca0"/>
<circle cx="296.1" cy="187.7" r="1.7" fill="#5e2ca0"/>
<circle cx="297" cy="187.7" r="1.7" fill="#5e2ca0"/>
<circle cx="297.8" cy="188.8" r="1.7" fill="#5e2ca0"/>
<circle cx="298.6" cy="189.9" r="1.7" fill="#5e2ca0"/>
<circle cx="299.5" cy="190.7" r="1.7" fill="#5e2ca0"/>
<circle cx="300.3" cy="191.5" r="1.7" fill="#5e2ca0"/>
<rect x="343.4" y="150.3" width="95.2" height="69" fill="none" stroke="#b4b4b4" stroke-width="1"/>
<line x1="341.2" y1="154.3" x2="343.4" y2="154.3" stroke="#999" stroke-width="0.7"/>
<text x="340.6" y="157.25" font-size="8.4" text-anchor="end" font-weight="normal" fill="#222" >1.0</text>
<line x1="341.2" y1="172" x2="343.4" y2="172" stroke="#999" stroke-width="0.7"/>
<text x="340.6" y="174.95" font-size="8.4" text-anchor="end" font-weight="normal" fill="#222" >0.5</text>
<line x1="341.2" y1="189.6" x2="343.4" y2="189.6" stroke="#999" stroke-width="0.7"/>
<text x="340.6" y="192.54999999999998" font-size="8.4" text-anchor="end" font-weight="normal" fill="#222" >0.0</text>
<line x1="341.2" y1="207.3" x2="343.4" y2="207.3" stroke="#999" stroke-width="0.7"/>
<text x="340.6" y="210.25" font-size="8.4" text-anchor="end" font-weight="normal" fill="#222" >−0.5</text>
<line x1="347.5" y1="219.3" x2="347.5" y2="221.2" stroke="#999" stroke-width="0.7"/>
<text x="347.5" y="228" font-size="8.4" text-anchor="middle" font-weight="normal" fill="#222" >0</text>
<line x1="363.8" y1="219.3" x2="363.8" y2="221.2" stroke="#999" stroke-width="0.7"/>
<text x="363.8" y="228" font-size="8.4" text-anchor="middle" font-weight="normal" fill="#222" >10</text>
<line x1="380.0" y1="219.3" x2="380.0" y2="221.2" stroke="#999" stroke-width="0.7"/>
<text x="380.0" y="228" font-size="8.4" text-anchor="middle" font-weight="normal" fill="#222" >20</text>
<line x1="396.3" y1="219.3" x2="396.3" y2="221.2" stroke="#999" stroke-width="0.7"/>
<text x="396.3" y="228" font-size="8.4" text-anchor="middle" font-weight="normal" fill="#222" >30</text>
<line x1="412.6" y1="219.3" x2="412.6" y2="221.2" stroke="#999" stroke-width="0.7"/>
<text x="412.6" y="228" font-size="8.4" text-anchor="middle" font-weight="normal" fill="#222" >40</text>
<line x1="428.9" y1="219.3" x2="428.9" y2="221.2" stroke="#999" stroke-width="0.7"/>
<text x="428.9" y="228" font-size="8.4" text-anchor="middle" font-weight="normal" fill="#222" >50</text>
<text x="391" y="237.2" font-size="9.7" text-anchor="middle" font-weight="normal" fill="#222" >time (s)</text>
<text x="0" y="0" font-size="9" text-anchor="middle" font-weight="normal" fill="#222" transform="translate(319.2,185) rotate(-90)">ACF</text>
<circle cx="347.50" cy="154.65" r="1.75" fill="#5e2ca0"/>
<circle cx="348.15" cy="154.94" r="1.75" fill="#5e2ca0"/>
<circle cx="348.80" cy="155.22" r="1.75" fill="#5e2ca0"/>
<circle cx="349.45" cy="155.51" r="1.75" fill="#5e2ca0"/>
<circle cx="350.10" cy="155.79" r="1.75" fill="#5e2ca0"/>
<circle cx="350.75" cy="156.08" r="1.75" fill="#5e2ca0"/>
<circle cx="351.40" cy="156.36" r="1.75" fill="#5e2ca0"/>
<circle cx="352.06" cy="156.65" r="1.75" fill="#5e2ca0"/>
<circle cx="352.71" cy="156.93" r="1.75" fill="#5e2ca0"/>
<circle cx="353.36" cy="157.22" r="1.75" fill="#5e2ca0"/>
<circle cx="354.01" cy="157.50" r="1.75" fill="#5e2ca0"/>
<circle cx="354.66" cy="157.78" r="1.75" fill="#5e2ca0"/>
<circle cx="355.31" cy="158.07" r="1.75" fill="#5e2ca0"/>
<circle cx="355.96" cy="158.35" r="1.75" fill="#5e2ca0"/>
<circle cx="356.61" cy="158.64" r="1.75" fill="#5e2ca0"/>
<circle cx="357.26" cy="158.92" r="1.75" fill="#5e2ca0"/>
<circle cx="357.91" cy="159.18" r="1.75" fill="#5e2ca0"/>
<circle cx="358.56" cy="159.43" r="1.75" fill="#5e2ca0"/>
<circle cx="359.21" cy="159.67" r="1.75" fill="#5e2ca0"/>
<circle cx="359.87" cy="159.92" r="1.75" fill="#5e2ca0"/>
<circle cx="360.52" cy="160.16" r="1.75" fill="#5e2ca0"/>
<circle cx="361.17" cy="160.41" r="1.75" fill="#5e2ca0"/>
<circle cx="361.82" cy="160.66" r="1.75" fill="#5e2ca0"/>
<circle cx="362.47" cy="160.90" r="1.75" fill="#5e2ca0"/>
<circle cx="363.12" cy="161.15" r="1.75" fill="#5e2ca0"/>
<circle cx="363.77" cy="161.39" r="1.75" fill="#5e2ca0"/>
<circle cx="364.42" cy="161.64" r="1.75" fill="#5e2ca0"/>
<circle cx="365.07" cy="161.89" r="1.75" fill="#5e2ca0"/>
<circle cx="365.72" cy="162.13" r="1.75" fill="#5e2ca0"/>
<circle cx="366.37" cy="162.38" r="1.75" fill="#5e2ca0"/>
<circle cx="367.02" cy="162.62" r="1.75" fill="#5e2ca0"/>
<circle cx="367.67" cy="162.87" r="1.75" fill="#5e2ca0"/>
<circle cx="368.33" cy="163.12" r="1.75" fill="#5e2ca0"/>
<circle cx="368.98" cy="163.38" r="1.75" fill="#5e2ca0"/>
<circle cx="369.63" cy="163.71" r="1.75" fill="#5e2ca0"/>
<circle cx="370.28" cy="164.03" r="1.75" fill="#5e2ca0"/>
<circle cx="370.93" cy="164.36" r="1.75" fill="#5e2ca0"/>
<circle cx="371.58" cy="164.69" r="1.75" fill="#5e2ca0"/>
<circle cx="372.23" cy="165.01" r="1.75" fill="#5e2ca0"/>
<circle cx="372.88" cy="165.34" r="1.75" fill="#5e2ca0"/>
<circle cx="373.53" cy="165.66" r="1.75" fill="#5e2ca0"/>
<circle cx="374.18" cy="165.99" r="1.75" fill="#5e2ca0"/>
<circle cx="374.83" cy="166.32" r="1.75" fill="#5e2ca0"/>
<circle cx="375.48" cy="166.64" r="1.75" fill="#5e2ca0"/>
<circle cx="376.14" cy="166.97" r="1.75" fill="#5e2ca0"/>
<circle cx="376.79" cy="167.29" r="1.75" fill="#5e2ca0"/>
<circle cx="377.44" cy="167.62" r="1.75" fill="#5e2ca0"/>
<circle cx="378.09" cy="167.94" r="1.75" fill="#5e2ca0"/>
<circle cx="378.74" cy="168.27" r="1.75" fill="#5e2ca0"/>
<circle cx="379.39" cy="168.60" r="1.75" fill="#5e2ca0"/>
<circle cx="380.04" cy="169.04" r="1.75" fill="#5e2ca0"/>
<circle cx="380.69" cy="169.49" r="1.75" fill="#5e2ca0"/>
<circle cx="381.34" cy="169.94" r="1.75" fill="#5e2ca0"/>
<circle cx="381.99" cy="170.39" r="1.75" fill="#5e2ca0"/>
<circle cx="382.64" cy="170.83" r="1.75" fill="#5e2ca0"/>
<circle cx="383.29" cy="171.28" r="1.75" fill="#5e2ca0"/>
<circle cx="383.94" cy="171.73" r="1.75" fill="#5e2ca0"/>
<circle cx="384.60" cy="172.18" r="1.75" fill="#5e2ca0"/>
<circle cx="385.25" cy="172.62" r="1.75" fill="#5e2ca0"/>
<circle cx="385.90" cy="173.07" r="1.75" fill="#5e2ca0"/>
<circle cx="386.55" cy="173.52" r="1.75" fill="#5e2ca0"/>
<circle cx="387.20" cy="173.97" r="1.75" fill="#5e2ca0"/>
<circle cx="387.85" cy="174.41" r="1.75" fill="#5e2ca0"/>
<circle cx="388.50" cy="174.86" r="1.75" fill="#5e2ca0"/>
<circle cx="389.15" cy="175.33" r="1.75" fill="#5e2ca0"/>
<circle cx="389.80" cy="175.84" r="1.75" fill="#5e2ca0"/>
<circle cx="390.45" cy="176.36" r="1.75" fill="#5e2ca0"/>
<circle cx="391.10" cy="176.88" r="1.75" fill="#5e2ca0"/>
<circle cx="391.75" cy="177.40" r="1.75" fill="#5e2ca0"/>
<circle cx="392.41" cy="177.92" r="1.75" fill="#5e2ca0"/>
<circle cx="393.06" cy="178.43" r="1.75" fill="#5e2ca0"/>
<circle cx="393.71" cy="178.95" r="1.75" fill="#5e2ca0"/>
<circle cx="394.36" cy="179.47" r="1.75" fill="#5e2ca0"/>
<circle cx="395.01" cy="179.99" r="1.75" fill="#5e2ca0"/>
<circle cx="395.66" cy="180.50" r="1.75" fill="#5e2ca0"/>
<circle cx="396.31" cy="181.02" r="1.75" fill="#5e2ca0"/>
<circle cx="396.96" cy="181.54" r="1.75" fill="#5e2ca0"/>
<circle cx="397.61" cy="182.06" r="1.75" fill="#5e2ca0"/>
<circle cx="398.26" cy="182.69" r="1.75" fill="#5e2ca0"/>
<circle cx="398.91" cy="183.37" r="1.75" fill="#5e2ca0"/>
<circle cx="399.56" cy="184.04" r="1.75" fill="#5e2ca0"/>
<circle cx="400.21" cy="184.71" r="1.75" fill="#5e2ca0"/>
<circle cx="400.87" cy="185.39" r="1.75" fill="#5e2ca0"/>
<circle cx="401.52" cy="186.06" r="1.75" fill="#5e2ca0"/>
<circle cx="402.17" cy="186.74" r="1.75" fill="#5e2ca0"/>
<circle cx="402.82" cy="187.41" r="1.75" fill="#5e2ca0"/>
<circle cx="403.47" cy="188.08" r="1.75" fill="#5e2ca0"/>
<circle cx="404.12" cy="188.76" r="1.75" fill="#5e2ca0"/>
<circle cx="404.77" cy="189.43" r="1.75" fill="#5e2ca0"/>
<circle cx="405.42" cy="190.21" r="1.75" fill="#5e2ca0"/>
<circle cx="406.07" cy="191.02" r="1.75" fill="#5e2ca0"/>
<circle cx="406.72" cy="191.83" r="1.75" fill="#5e2ca0"/>
<circle cx="407.37" cy="192.64" r="1.75" fill="#5e2ca0"/>
<circle cx="408.02" cy="193.45" r="1.75" fill="#5e2ca0"/>
<circle cx="408.68" cy="194.26" r="1.75" fill="#5e2ca0"/>
<circle cx="409.33" cy="195.07" r="1.75" fill="#5e2ca0"/>
<circle cx="409.98" cy="195.88" r="1.75" fill="#5e2ca0"/>
<circle cx="410.63" cy="196.69" r="1.75" fill="#5e2ca0"/>
<circle cx="411.28" cy="197.50" r="1.75" fill="#5e2ca0"/>
<circle cx="411.93" cy="198.31" r="1.75" fill="#5e2ca0"/>
<circle cx="412.58" cy="199.12" r="1.75" fill="#5e2ca0"/>
<circle cx="413.23" cy="199.94" r="1.75" fill="#5e2ca0"/>
<circle cx="413.88" cy="200.69" r="1.75" fill="#5e2ca0"/>
<circle cx="414.53" cy="201.28" r="1.75" fill="#5e2ca0"/>
<circle cx="415.18" cy="201.87" r="1.75" fill="#5e2ca0"/>
<circle cx="415.83" cy="202.46" r="1.75" fill="#5e2ca0"/>
<circle cx="416.48" cy="203.05" r="1.75" fill="#5e2ca0"/>
<circle cx="417.14" cy="203.64" r="1.75" fill="#5e2ca0"/>
<circle cx="417.79" cy="204.23" r="1.75" fill="#5e2ca0"/>
<circle cx="418.44" cy="204.82" r="1.75" fill="#5e2ca0"/>
<circle cx="419.09" cy="205.41" r="1.75" fill="#5e2ca0"/>
<circle cx="419.74" cy="206.00" r="1.75" fill="#5e2ca0"/>
<circle cx="420.39" cy="206.59" r="1.75" fill="#5e2ca0"/>
<circle cx="421.04" cy="207.18" r="1.75" fill="#5e2ca0"/>
<circle cx="421.69" cy="207.77" r="1.75" fill="#5e2ca0"/>
<circle cx="422.34" cy="208.36" r="1.75" fill="#5e2ca0"/>
<circle cx="422.99" cy="208.95" r="1.75" fill="#5e2ca0"/>
<circle cx="423.64" cy="209.54" r="1.75" fill="#5e2ca0"/>
<circle cx="424.29" cy="210.13" r="1.75" fill="#5e2ca0"/>
<circle cx="424.95" cy="210.66" r="1.75" fill="#5e2ca0"/>
<circle cx="425.60" cy="211.11" r="1.75" fill="#5e2ca0"/>
<circle cx="426.25" cy="211.57" r="1.75" fill="#5e2ca0"/>
<circle cx="426.90" cy="212.03" r="1.75" fill="#5e2ca0"/>
<circle cx="427.55" cy="212.48" r="1.75" fill="#5e2ca0"/>
<circle cx="428.20" cy="212.94" r="1.75" fill="#5e2ca0"/>
<circle cx="428.85" cy="213.40" r="1.75" fill="#5e2ca0"/>
<circle cx="429.50" cy="213.85" r="1.75" fill="#5e2ca0"/>
<circle cx="430.15" cy="214.31" r="1.75" fill="#5e2ca0"/>
<circle cx="430.80" cy="214.64" r="1.75" fill="#5e2ca0"/>
<circle cx="431.45" cy="214.97" r="1.75" fill="#5e2ca0"/>
<circle cx="432.10" cy="215.31" r="1.75" fill="#5e2ca0"/>
<circle cx="432.75" cy="215.64" r="1.75" fill="#5e2ca0"/>
<circle cx="433.41" cy="215.80" r="1.75" fill="#5e2ca0"/>
<circle cx="434.06" cy="215.91" r="1.75" fill="#5e2ca0"/>
<circle cx="434.71" cy="216.02" r="1.75" fill="#5e2ca0"/>
<path d="M347.50,153.24C348.86,153.80 352.92,155.41 355.63,156.59C358.35,157.76 361.06,158.98 363.77,160.27C366.48,161.55 369.19,162.89 371.90,164.28C374.62,165.68 377.11,167.00 380.04,168.63C382.97,170.27 387.90,173.19 389.48,174.10" stroke="#f5861f" stroke-width="1.5" fill="none"/>
<rect x="514.3" y="12.4" width="169" height="204.79999999999998" fill="none" stroke="#222" stroke-width="1"/>
<rect x="522.3" y="97.4" width="23" height="119.8" fill="#9acd32"/>
<line x1="533.8" y1="70" x2="533.8" y2="124" stroke="#000" stroke-width="1.8"/>
<line x1="531.5" y1="70" x2="536.0999999999999" y2="70" stroke="#000" stroke-width="1.4"/>
<line x1="531.5" y1="124" x2="536.0999999999999" y2="124" stroke="#000" stroke-width="1.4"/>
<rect x="554.8" y="182.9" width="23" height="34.3" fill="#800080"/>
<line x1="566.3" y1="171.6" x2="566.3" y2="193.6" stroke="#000" stroke-width="1.8"/>
<line x1="564.0" y1="171.6" x2="568.5999999999999" y2="171.6" stroke="#000" stroke-width="1.4"/>
<line x1="564.0" y1="193.6" x2="568.5999999999999" y2="193.6" stroke="#000" stroke-width="1.4"/>
<rect x="587.2" y="52.7" width="23" height="164.5" fill="#ffa500"/>
<line x1="598.7" y1="22.3" x2="598.7" y2="82.8" stroke="#000" stroke-width="1.8"/>
<line x1="596.4000000000001" y1="22.3" x2="601.0" y2="22.3" stroke="#000" stroke-width="1.4"/>
<line x1="596.4000000000001" y1="82.8" x2="601.0" y2="82.8" stroke="#000" stroke-width="1.4"/>
<rect x="619.7" y="97.4" width="23" height="119.8" fill="#b22222"/>
<line x1="631.2" y1="70.6" x2="631.2" y2="124" stroke="#000" stroke-width="1.8"/>
<line x1="628.9000000000001" y1="70.6" x2="633.5" y2="70.6" stroke="#000" stroke-width="1.4"/>
<line x1="628.9000000000001" y1="124" x2="633.5" y2="124" stroke="#000" stroke-width="1.4"/>
<rect x="652.3" y="88.7" width="23" height="128.5" fill="#6495ed"/>
<line x1="663.8" y1="47" x2="663.8" y2="130" stroke="#000" stroke-width="1.8"/>
<line x1="661.5" y1="47" x2="666.0999999999999" y2="47" stroke="#000" stroke-width="1.4"/>
<line x1="661.5" y1="130" x2="666.0999999999999" y2="130" stroke="#000" stroke-width="1.4"/>
<line x1="511.5" y1="217.7" x2="514.3" y2="217.7" stroke="#222" stroke-width="0.8"/>
<text x="509" y="221.8" font-size="12" text-anchor="end" font-weight="normal" fill="#111" >0</text>
<line x1="511.5" y1="177.8" x2="514.3" y2="177.8" stroke="#222" stroke-width="0.8"/>
<text x="509" y="181.9" font-size="12" text-anchor="end" font-weight="normal" fill="#111" >25</text>
<line x1="511.5" y1="138.0" x2="514.3" y2="138.0" stroke="#222" stroke-width="0.8"/>
<text x="509" y="142.1" font-size="12" text-anchor="end" font-weight="normal" fill="#111" >50</text>
<line x1="511.5" y1="98.1" x2="514.3" y2="98.1" stroke="#222" stroke-width="0.8"/>
<text x="509" y="102.2" font-size="12" text-anchor="end" font-weight="normal" fill="#111" >75</text>
<line x1="511.5" y1="58.3" x2="514.3" y2="58.3" stroke="#222" stroke-width="0.8"/>
<text x="509" y="62.4" font-size="12" text-anchor="end" font-weight="normal" fill="#111" >100</text>
<line x1="511.5" y1="18.4" x2="514.3" y2="18.4" stroke="#222" stroke-width="0.8"/>
<text x="509" y="22.5" font-size="12" text-anchor="end" font-weight="normal" fill="#111" >125</text>
<text x="533.8" y="232.0" font-size="12" text-anchor="middle" fill="#111">CTRL</text>
<line x1="533.8" y1="217.2" x2="533.8" y2="220.0" stroke="#222" stroke-width="0.8"/>
<text x="566.3" y="232.0" font-size="12" text-anchor="middle" fill="#111">NOC</text>
<line x1="566.3" y1="217.2" x2="566.3" y2="220.0" stroke="#222" stroke-width="0.8"/>
<text x="598.7" y="232.0" font-size="12" text-anchor="middle" fill="#111">LAT</text>
<line x1="598.7" y1="217.2" x2="598.7" y2="220.0" stroke="#222" stroke-width="0.8"/>
<text x="631.2" y="232.0" font-size="12" text-anchor="middle" fill="#111">VIM<tspan font-size="11" dy="-4.2" dx="0.4">−</tspan></text>
<line x1="631.2" y1="217.2" x2="631.2" y2="220.0" stroke="#222" stroke-width="0.8"/>
<text x="663.8" y="232.0" font-size="12" text-anchor="middle" fill="#111">VINB</text>
<line x1="663.8" y1="217.2" x2="663.8" y2="220.0" stroke="#222" stroke-width="0.8"/>
<g transform="translate(483.2,173) rotate(-90)"><text x="0" y="0" font-size="15.9" text-anchor="start" fill="#111">shape rate (ms<tspan font-size="10" dy="-6">−1</tspan><tspan dy="6">)</tspan></text></g>
<path d="M566.20,161.50L566.20,156.20M566.20,161.50L561.16,159.86M566.20,161.50L563.08,165.79M566.20,161.50L569.32,165.79M566.20,161.50L571.24,159.86" stroke="#000" stroke-width="1.9" fill="none"/>
<rect x="514.3" y="270.4" width="169" height="204.0" fill="none" stroke="#222" stroke-width="1"/>
<rect x="522.3" y="432.6" width="23" height="41.8" fill="#9acd32"/>
<line x1="533.8" y1="428.7" x2="533.8" y2="436.2" stroke="#000" stroke-width="1.8"/>
<line x1="531.5" y1="428.7" x2="536.0999999999999" y2="428.7" stroke="#000" stroke-width="1.4"/>
<line x1="531.5" y1="436.2" x2="536.0999999999999" y2="436.2" stroke="#000" stroke-width="1.4"/>
<rect x="554.8" y="449.2" width="23" height="25.2" fill="#800080"/>
<line x1="566.3" y1="445.3" x2="566.3" y2="453.3" stroke="#000" stroke-width="1.8"/>
<line x1="564.0" y1="445.3" x2="568.5999999999999" y2="445.3" stroke="#000" stroke-width="1.4"/>
<line x1="564.0" y1="453.3" x2="568.5999999999999" y2="453.3" stroke="#000" stroke-width="1.4"/>
<rect x="587.2" y="317.1" width="23" height="157.3" fill="#ffa500"/>
<line x1="598.7" y1="296.9" x2="598.7" y2="337.1" stroke="#000" stroke-width="1.8"/>
<line x1="596.4000000000001" y1="296.9" x2="601.0" y2="296.9" stroke="#000" stroke-width="1.4"/>
<line x1="596.4000000000001" y1="337.1" x2="601.0" y2="337.1" stroke="#000" stroke-width="1.4"/>
<rect x="619.7" y="430.3" width="23" height="44.1" fill="#b22222"/>
<line x1="631.2" y1="425.1" x2="631.2" y2="435.6" stroke="#000" stroke-width="1.8"/>
<line x1="628.9000000000001" y1="425.1" x2="633.5" y2="425.1" stroke="#000" stroke-width="1.4"/>
<line x1="628.9000000000001" y1="435.6" x2="633.5" y2="435.6" stroke="#000" stroke-width="1.4"/>
<rect x="652.3" y="422.0" width="23" height="52.4" fill="#6495ed"/>
<line x1="663.8" y1="415.4" x2="663.8" y2="428.7" stroke="#000" stroke-width="1.8"/>
<line x1="661.5" y1="415.4" x2="666.0999999999999" y2="415.4" stroke="#000" stroke-width="1.4"/>
<line x1="661.5" y1="428.7" x2="666.0999999999999" y2="428.7" stroke="#000" stroke-width="1.4"/>
<line x1="511.5" y1="474.4" x2="514.3" y2="474.4" stroke="#222" stroke-width="0.8"/>
<text x="509" y="478.5" font-size="12" text-anchor="end" font-weight="normal" fill="#111" >0</text>
<line x1="511.5" y1="430.1" x2="514.3" y2="430.1" stroke="#222" stroke-width="0.8"/>
<text x="509" y="434.2" font-size="12" text-anchor="end" font-weight="normal" fill="#111" >0.5</text>
<line x1="511.5" y1="385.8" x2="514.3" y2="385.8" stroke="#222" stroke-width="0.8"/>
<text x="509" y="389.9" font-size="12" text-anchor="end" font-weight="normal" fill="#111" >1.0</text>
<line x1="511.5" y1="341.5" x2="514.3" y2="341.5" stroke="#222" stroke-width="0.8"/>
<text x="509" y="345.6" font-size="12" text-anchor="end" font-weight="normal" fill="#111" >1.5</text>
<line x1="511.5" y1="297.2" x2="514.3" y2="297.2" stroke="#222" stroke-width="0.8"/>
<text x="509" y="301.3" font-size="12" text-anchor="end" font-weight="normal" fill="#111" >2.0</text>
<text x="533.8" y="489.2" font-size="12" text-anchor="middle" fill="#111">CTRL</text>
<line x1="533.8" y1="474.4" x2="533.8" y2="477.2" stroke="#222" stroke-width="0.8"/>
<text x="566.3" y="489.2" font-size="12" text-anchor="middle" fill="#111">NOC</text>
<line x1="566.3" y1="474.4" x2="566.3" y2="477.2" stroke="#222" stroke-width="0.8"/>
<text x="598.7" y="489.2" font-size="12" text-anchor="middle" fill="#111">LAT</text>
<line x1="598.7" y1="474.4" x2="598.7" y2="477.2" stroke="#222" stroke-width="0.8"/>
<text x="631.2" y="489.2" font-size="12" text-anchor="middle" fill="#111">VIM<tspan font-size="11" dy="-4.2" dx="0.4">−</tspan></text>
<line x1="631.2" y1="474.4" x2="631.2" y2="477.2" stroke="#222" stroke-width="0.8"/>
<text x="663.8" y="489.2" font-size="12" text-anchor="middle" fill="#111">VINB</text>
<line x1="663.8" y1="474.4" x2="663.8" y2="477.2" stroke="#222" stroke-width="0.8"/>
<g transform="translate(486.6,431.7) rotate(-90)"><text x="0" y="0" font-size="15.9" text-anchor="start" fill="#111">mobility (µm/min)</text></g>
<path d="M565.90,435.50L565.90,430.20M565.90,435.50L560.86,433.86M565.90,435.50L562.78,439.79M565.90,435.50L569.02,439.79M565.90,435.50L570.94,433.86" stroke="#000" stroke-width="1.9" fill="none"/>
<path d="M598.90,287.30L598.90,282.00M598.90,287.30L593.86,285.66M598.90,287.30L595.78,291.59M598.90,287.30L602.02,291.59M598.90,287.30L603.94,285.66" stroke="#000" stroke-width="1.9" fill="none"/>
<g clip-path="url(#ce1)"><g transform="translate(16,270)">
<rect x="-2" y="-2" width="104" height="76" fill="#000"/>
<g filter="url(#grain3)"><polygon points="-2,-2 40,-2 70,14 102,34 102,70 70,56 35,44 10,38 -2,36" fill="#0e4e0e" filter="url(#b3)"/><polygon points="-2,-2 38,-2 48,20 45,42 20,40 -2,34" fill="#0d4a0d" filter="url(#b3)"/></g>
<g filter="url(#grain2)">
<path d="M19.00,-1.00C21.17,0.17 27.87,3.65 32.00,6.00C36.13,8.35 41.83,11.92 43.80,13.10" stroke="#34c834" stroke-width="2.99" stroke-opacity="0.75" fill="none" filter="url(#b08)"/>
<path d="M40.00,11.00C40.63,11.35 42.07,12.18 43.80,13.10C45.53,14.02 47.70,15.18 50.40,16.50C53.10,17.82 56.73,19.50 60.00,21.00C63.27,22.50 66.67,23.92 70.00,25.50C73.33,27.08 76.67,28.75 80.00,30.50C83.33,32.25 86.50,33.42 90.00,36.00C93.50,38.58 99.17,44.33 101.00,46.00" stroke="#3ad83a" stroke-width="3.22" stroke-opacity="1" fill="none" filter="url(#b08)"/>
<path d="M-1.00,13.50C0.83,13.92 6.67,15.08 10.00,16.00C13.33,16.92 15.67,17.83 19.00,19.00C22.33,20.17 26.50,21.17 30.00,23.00C33.50,24.83 37.50,28.33 40.00,30.00C42.50,31.67 44.17,32.50 45.00,33.00" stroke="#2aa82a" stroke-width="2.76" stroke-opacity="0.55" fill="none" filter="url(#b08)"/>
<path d="M40.00,30.00C41.67,30.92 46.67,33.75 50.00,35.50C53.33,37.25 56.45,38.57 60.00,40.50C63.55,42.43 67.13,44.93 71.30,47.10C75.47,49.27 80.05,51.27 85.00,53.50C89.95,55.73 98.33,59.33 101.00,60.50" stroke="#3ad83a" stroke-width="3.22" stroke-opacity="1" fill="none" filter="url(#b08)"/>
<path d="M-1.00,19.00C0.83,20.00 6.18,23.05 10.00,25.00C13.82,26.95 18.07,29.37 21.90,30.70C25.73,32.03 29.98,32.35 33.00,33.00C36.02,33.65 38.00,33.93 40.00,34.60C42.00,35.27 44.17,36.60 45.00,37.00" stroke="#2aa82a" stroke-width="2.53" stroke-opacity="0.5" fill="none" filter="url(#b08)"/>
<path d="M40.00,34.60C41.67,35.50 46.67,38.10 50.00,40.00C53.33,41.90 55.83,43.67 60.00,46.00C64.17,48.33 70.33,51.83 75.00,54.00C79.67,56.17 83.67,57.08 88.00,59.00C92.33,60.92 98.83,64.42 101.00,65.50" stroke="#30c830" stroke-width="2.99" stroke-opacity="0.95" fill="none" filter="url(#b08)"/>
<path d="M2.00,23.00C3.67,24.83 8.67,30.50 12.00,34.00C15.33,37.50 18.67,40.83 22.00,44.00C25.33,47.17 28.83,50.00 32.00,53.00C35.17,56.00 39.50,60.50 41.00,62.00" stroke="#1f9a1f" stroke-width="2.07" stroke-opacity="0.5" fill="none" filter="url(#b08)"/>
<path d="M4.00,40.00C5.83,41.67 11.33,47.00 15.00,50.00C18.67,53.00 22.50,55.33 26.00,58.00C29.50,60.67 34.33,64.67 36.00,66.00" stroke="#1a8a1a" stroke-width="1.72" stroke-opacity="0.4" fill="none" filter="url(#b08)"/>
<path d="M46.00,3.00C48.33,4.00 55.83,6.17 60.00,9.00C64.17,11.83 66.83,17.33 71.00,20.00C75.17,22.67 80.00,23.17 85.00,25.00C90.00,26.83 98.33,30.00 101.00,31.00" stroke="#28b028" stroke-width="2.30" stroke-opacity="0.55" fill="none" filter="url(#b08)"/>
<path d="M-1.00,4.00C0.83,4.67 6.17,6.67 10.00,8.00C13.83,9.33 18.17,10.50 22.00,12.00C25.83,13.50 29.17,15.33 33.00,17.00C36.83,18.67 43.00,21.17 45.00,22.00" stroke="#28a828" stroke-width="2.30" stroke-opacity="0.55" fill="none" filter="url(#b08)"/>
<path d="M60.00,-1.00C62.50,-0.17 70.00,2.33 75.00,4.00C80.00,5.67 85.67,7.50 90.00,9.00C94.33,10.50 99.17,12.33 101.00,13.00" stroke="#1a8a1a" stroke-width="1.61" stroke-opacity="0.35" fill="none" filter="url(#b08)"/>
<path d="M10.00,-1.00C11.67,-0.33 16.67,1.33 20.00,3.00C23.33,4.67 26.67,6.83 30.00,9.00C33.33,11.17 36.33,13.50 40.00,16.00C43.67,18.50 50.00,22.67 52.00,24.00" stroke="#28a828" stroke-width="2.07" stroke-opacity="0.5" fill="none" filter="url(#b08)"/>
<path d="M-1.00,28.00C0.83,28.83 6.50,31.33 10.00,33.00C13.50,34.67 16.67,36.17 20.00,38.00C23.33,39.83 28.33,43.00 30.00,44.00" stroke="#1f9a1f" stroke-width="1.84" stroke-opacity="0.5" fill="none" filter="url(#b08)"/>
</g>
<g filter="url(#grain4)">
<path d="M40.90,19.00C41.75,19.50 44.32,20.92 46.00,22.00C47.68,23.08 50.17,24.92 51.00,25.50" stroke="#f42a0c" stroke-width="3.8" stroke-linecap="round" fill="none" filter="url(#b1)"/>
<path d="M54.00,27.50C55.00,28.08 57.83,29.83 60.00,31.00C62.17,32.17 64.83,33.33 67.00,34.50C69.17,35.67 70.90,36.83 73.00,38.00C75.10,39.17 78.50,40.92 79.60,41.50" stroke="#f42a0c" stroke-width="3.8" stroke-linecap="round" fill="none" filter="url(#b1)"/>
<path d="M46.70,38.00C47.25,38.22 48.62,38.77 50.00,39.30C51.38,39.83 52.87,40.28 55.00,41.20C57.13,42.12 61.50,44.20 62.80,44.80" stroke="#f42a0c" stroke-width="3.8" stroke-linecap="round" fill="none" filter="url(#b1)"/>
<path d="M0.00,5.80C1.33,6.08 5.50,6.88 8.00,7.50C10.50,8.12 13.83,9.17 15.00,9.50" stroke="#b82a0a" stroke-width="2.8" stroke-linecap="round" fill="none" filter="url(#b1)"/>
<path d="M30.00,1.50C30.50,1.92 32.17,3.15 33.00,4.00C33.83,4.85 34.67,6.17 35.00,6.60" stroke="#f42a0c" stroke-width="3.5" stroke-linecap="round" fill="none" filter="url(#b1)"/>
<circle cx="2.9" cy="13.1" r="1.4" fill="#a02a0a" filter="url(#b05)"/>
<path d="M87.60,55.50C89.30,56.47 96.10,60.33 97.80,61.30" stroke="#902a0a" stroke-width="2.5" stroke-linecap="round" fill="none" filter="url(#b1)"/>
</g>
<circle cx="54" cy="41.3" r="1.9" fill="#ffe21a"/>
</g></g>
<rect x="16.5" y="269.8" width="99" height="71.7" fill="none" stroke="#8a8a35" stroke-width="1"/>
<text x="112.7" y="281.1" font-size="10.4" word-spacing="1.9" text-anchor="end" fill="#ececec">t = 0 s</text>
<g clip-path="url(#ce2)"><g transform="translate(124,270)">
<rect x="-2" y="-2" width="104" height="76" fill="#000"/>
<g filter="url(#grain3)"><polygon points="-2,-2 40,-2 70,14 102,34 102,70 70,56 35,44 10,38 -2,36" fill="#0e4e0e" filter="url(#b3)"/><polygon points="-2,-2 38,-2 48,20 45,42 20,40 -2,34" fill="#0d4a0d" filter="url(#b3)"/></g>
<g filter="url(#grain2)">
<path d="M19.00,-1.00C21.17,0.17 27.87,3.65 32.00,6.00C36.13,8.35 41.83,11.92 43.80,13.10" stroke="#34c834" stroke-width="2.99" stroke-opacity="0.75" fill="none" filter="url(#b08)"/>
<path d="M40.00,11.00C40.63,11.35 42.07,12.18 43.80,13.10C45.53,14.02 47.70,15.18 50.40,16.50C53.10,17.82 56.73,19.50 60.00,21.00C63.27,22.50 66.67,23.92 70.00,25.50C73.33,27.08 76.67,28.75 80.00,30.50C83.33,32.25 86.50,33.42 90.00,36.00C93.50,38.58 99.17,44.33 101.00,46.00" stroke="#3ad83a" stroke-width="3.22" stroke-opacity="1" fill="none" filter="url(#b08)"/>
<path d="M-1.00,13.50C0.83,13.92 6.67,15.08 10.00,16.00C13.33,16.92 15.67,17.83 19.00,19.00C22.33,20.17 26.50,21.17 30.00,23.00C33.50,24.83 37.50,28.33 40.00,30.00C42.50,31.67 44.17,32.50 45.00,33.00" stroke="#2aa82a" stroke-width="2.76" stroke-opacity="0.55" fill="none" filter="url(#b08)"/>
<path d="M40.00,30.00C41.67,30.92 46.67,33.75 50.00,35.50C53.33,37.25 56.45,38.57 60.00,40.50C63.55,42.43 67.13,44.93 71.30,47.10C75.47,49.27 80.05,51.27 85.00,53.50C89.95,55.73 98.33,59.33 101.00,60.50" stroke="#3ad83a" stroke-width="3.22" stroke-opacity="1" fill="none" filter="url(#b08)"/>
<path d="M-1.00,19.00C0.83,20.00 6.18,23.05 10.00,25.00C13.82,26.95 18.07,29.37 21.90,30.70C25.73,32.03 29.98,32.35 33.00,33.00C36.02,33.65 38.00,33.93 40.00,34.60C42.00,35.27 44.17,36.60 45.00,37.00" stroke="#2aa82a" stroke-width="2.53" stroke-opacity="0.5" fill="none" filter="url(#b08)"/>
<path d="M40.00,34.60C41.67,35.50 46.67,38.10 50.00,40.00C53.33,41.90 55.83,43.67 60.00,46.00C64.17,48.33 70.33,51.83 75.00,54.00C79.67,56.17 83.67,57.08 88.00,59.00C92.33,60.92 98.83,64.42 101.00,65.50" stroke="#30c830" stroke-width="2.99" stroke-opacity="0.95" fill="none" filter="url(#b08)"/>
<path d="M2.00,23.00C3.67,24.83 8.67,30.50 12.00,34.00C15.33,37.50 18.67,40.83 22.00,44.00C25.33,47.17 28.83,50.00 32.00,53.00C35.17,56.00 39.50,60.50 41.00,62.00" stroke="#1f9a1f" stroke-width="2.07" stroke-opacity="0.5" fill="none" filter="url(#b08)"/>
<path d="M4.00,40.00C5.83,41.67 11.33,47.00 15.00,50.00C18.67,53.00 22.50,55.33 26.00,58.00C29.50,60.67 34.33,64.67 36.00,66.00" stroke="#1a8a1a" stroke-width="1.72" stroke-opacity="0.4" fill="none" filter="url(#b08)"/>
<path d="M46.00,3.00C48.33,4.00 55.83,6.17 60.00,9.00C64.17,11.83 66.83,17.33 71.00,20.00C75.17,22.67 80.00,23.17 85.00,25.00C90.00,26.83 98.33,30.00 101.00,31.00" stroke="#28b028" stroke-width="2.30" stroke-opacity="0.55" fill="none" filter="url(#b08)"/>
<path d="M-1.00,4.00C0.83,4.67 6.17,6.67 10.00,8.00C13.83,9.33 18.17,10.50 22.00,12.00C25.83,13.50 29.17,15.33 33.00,17.00C36.83,18.67 43.00,21.17 45.00,22.00" stroke="#28a828" stroke-width="2.30" stroke-opacity="0.55" fill="none" filter="url(#b08)"/>
<path d="M60.00,-1.00C62.50,-0.17 70.00,2.33 75.00,4.00C80.00,5.67 85.67,7.50 90.00,9.00C94.33,10.50 99.17,12.33 101.00,13.00" stroke="#1a8a1a" stroke-width="1.61" stroke-opacity="0.35" fill="none" filter="url(#b08)"/>
<path d="M10.00,-1.00C11.67,-0.33 16.67,1.33 20.00,3.00C23.33,4.67 26.67,6.83 30.00,9.00C33.33,11.17 36.33,13.50 40.00,16.00C43.67,18.50 50.00,22.67 52.00,24.00" stroke="#28a828" stroke-width="2.07" stroke-opacity="0.5" fill="none" filter="url(#b08)"/>
<path d="M-1.00,28.00C0.83,28.83 6.50,31.33 10.00,33.00C13.50,34.67 16.67,36.17 20.00,38.00C23.33,39.83 28.33,43.00 30.00,44.00" stroke="#1f9a1f" stroke-width="1.84" stroke-opacity="0.5" fill="none" filter="url(#b08)"/>
</g>
<g filter="url(#grain4)">
<path d="M51.10,24.80C52.58,25.67 56.85,28.05 60.00,30.00C63.15,31.95 66.67,34.50 70.00,36.50C73.33,38.50 76.58,40.30 80.00,42.00C83.42,43.70 88.75,45.92 90.50,46.70" stroke="#f42a0c" stroke-width="3.8" stroke-linecap="round" fill="none" filter="url(#b1)"/>
<path d="M19.00,16.80C19.83,17.42 22.50,19.30 24.00,20.50C25.50,21.70 26.40,22.67 28.00,24.00C29.60,25.33 32.67,27.75 33.60,28.50" stroke="#f42a0c" stroke-width="3.8" stroke-linecap="round" fill="none" filter="url(#b1)"/>
<path d="M0.00,3.00C1.33,3.33 5.57,4.28 8.00,5.00C10.43,5.72 13.50,6.92 14.60,7.30" stroke="#b82a0a" stroke-width="2.8" stroke-linecap="round" fill="none" filter="url(#b1)"/>
<path d="M30.00,1.50C30.50,1.92 32.17,3.15 33.00,4.00C33.83,4.85 34.67,6.17 35.00,6.60" stroke="#f42a0c" stroke-width="3.5" stroke-linecap="round" fill="none" filter="url(#b1)"/>
</g>
<circle cx="26" cy="22.3" r="1.9" fill="#ffe21a"/>
</g></g>
<rect x="124.5" y="269.8" width="98" height="71.7" fill="none" stroke="#8a8a35" stroke-width="1"/>
<text x="219.7" y="281.1" font-size="10.4" word-spacing="1.9" text-anchor="end" fill="#ececec">t = 14 s</text>
<g clip-path="url(#ce3)"><g transform="translate(232,270)">
<rect x="-2" y="-2" width="104" height="76" fill="#000"/>
<g filter="url(#grain3)"><polygon points="-2,-2 40,-2 70,14 102,34 102,70 70,56 35,44 10,38 -2,36" fill="#0e4e0e" filter="url(#b3)"/><polygon points="-2,-2 38,-2 48,20 45,42 20,40 -2,34" fill="#0d4a0d" filter="url(#b3)"/></g>
<g filter="url(#grain2)">
<path d="M19.00,-1.00C21.17,0.17 27.87,3.65 32.00,6.00C36.13,8.35 41.83,11.92 43.80,13.10" stroke="#34c834" stroke-width="2.99" stroke-opacity="0.75" fill="none" filter="url(#b08)"/>
<path d="M40.00,11.00C40.63,11.35 42.07,12.18 43.80,13.10C45.53,14.02 47.70,15.18 50.40,16.50C53.10,17.82 56.73,19.50 60.00,21.00C63.27,22.50 66.67,23.92 70.00,25.50C73.33,27.08 76.67,28.75 80.00,30.50C83.33,32.25 86.50,33.42 90.00,36.00C93.50,38.58 99.17,44.33 101.00,46.00" stroke="#3ad83a" stroke-width="3.22" stroke-opacity="1" fill="none" filter="url(#b08)"/>
<path d="M-1.00,13.50C0.83,13.92 6.67,15.08 10.00,16.00C13.33,16.92 15.67,17.83 19.00,19.00C22.33,20.17 26.50,21.17 30.00,23.00C33.50,24.83 37.50,28.33 40.00,30.00C42.50,31.67 44.17,32.50 45.00,33.00" stroke="#2aa82a" stroke-width="2.76" stroke-opacity="0.55" fill="none" filter="url(#b08)"/>
<path d="M40.00,30.00C41.67,30.92 46.67,33.75 50.00,35.50C53.33,37.25 56.45,38.57 60.00,40.50C63.55,42.43 67.13,44.93 71.30,47.10C75.47,49.27 80.05,51.27 85.00,53.50C89.95,55.73 98.33,59.33 101.00,60.50" stroke="#3ad83a" stroke-width="3.22" stroke-opacity="1" fill="none" filter="url(#b08)"/>
<path d="M-1.00,19.00C0.83,20.00 6.18,23.05 10.00,25.00C13.82,26.95 18.07,29.37 21.90,30.70C25.73,32.03 29.98,32.35 33.00,33.00C36.02,33.65 38.00,33.93 40.00,34.60C42.00,35.27 44.17,36.60 45.00,37.00" stroke="#2aa82a" stroke-width="2.53" stroke-opacity="0.5" fill="none" filter="url(#b08)"/>
<path d="M40.00,34.60C41.67,35.50 46.67,38.10 50.00,40.00C53.33,41.90 55.83,43.67 60.00,46.00C64.17,48.33 70.33,51.83 75.00,54.00C79.67,56.17 83.67,57.08 88.00,59.00C92.33,60.92 98.83,64.42 101.00,65.50" stroke="#30c830" stroke-width="2.99" stroke-opacity="0.95" fill="none" filter="url(#b08)"/>
<path d="M2.00,23.00C3.67,24.83 8.67,30.50 12.00,34.00C15.33,37.50 18.67,40.83 22.00,44.00C25.33,47.17 28.83,50.00 32.00,53.00C35.17,56.00 39.50,60.50 41.00,62.00" stroke="#1f9a1f" stroke-width="2.07" stroke-opacity="0.5" fill="none" filter="url(#b08)"/>
<path d="M4.00,40.00C5.83,41.67 11.33,47.00 15.00,50.00C18.67,53.00 22.50,55.33 26.00,58.00C29.50,60.67 34.33,64.67 36.00,66.00" stroke="#1a8a1a" stroke-width="1.72" stroke-opacity="0.4" fill="none" filter="url(#b08)"/>
<path d="M46.00,3.00C48.33,4.00 55.83,6.17 60.00,9.00C64.17,11.83 66.83,17.33 71.00,20.00C75.17,22.67 80.00,23.17 85.00,25.00C90.00,26.83 98.33,30.00 101.00,31.00" stroke="#28b028" stroke-width="2.30" stroke-opacity="0.55" fill="none" filter="url(#b08)"/>
<path d="M-1.00,4.00C0.83,4.67 6.17,6.67 10.00,8.00C13.83,9.33 18.17,10.50 22.00,12.00C25.83,13.50 29.17,15.33 33.00,17.00C36.83,18.67 43.00,21.17 45.00,22.00" stroke="#28a828" stroke-width="2.30" stroke-opacity="0.55" fill="none" filter="url(#b08)"/>
<path d="M60.00,-1.00C62.50,-0.17 70.00,2.33 75.00,4.00C80.00,5.67 85.67,7.50 90.00,9.00C94.33,10.50 99.17,12.33 101.00,13.00" stroke="#1a8a1a" stroke-width="1.61" stroke-opacity="0.35" fill="none" filter="url(#b08)"/>
<path d="M10.00,-1.00C11.67,-0.33 16.67,1.33 20.00,3.00C23.33,4.67 26.67,6.83 30.00,9.00C33.33,11.17 36.33,13.50 40.00,16.00C43.67,18.50 50.00,22.67 52.00,24.00" stroke="#28a828" stroke-width="2.07" stroke-opacity="0.5" fill="none" filter="url(#b08)"/>
<path d="M-1.00,28.00C0.83,28.83 6.50,31.33 10.00,33.00C13.50,34.67 16.67,36.17 20.00,38.00C23.33,39.83 28.33,43.00 30.00,44.00" stroke="#1f9a1f" stroke-width="1.84" stroke-opacity="0.5" fill="none" filter="url(#b08)"/>
</g>
<g filter="url(#grain4)">
<path d="M52.60,27.70C54.17,28.75 58.77,31.95 62.00,34.00C65.23,36.05 68.67,38.50 72.00,40.00C75.33,41.50 78.67,41.88 82.00,43.00C85.33,44.12 90.33,46.08 92.00,46.70" stroke="#f42a0c" stroke-width="3.8" stroke-linecap="round" fill="none" filter="url(#b1)"/>
<path d="M30.00,25.50C31.17,26.25 34.58,28.53 37.00,30.00C39.42,31.47 43.25,33.58 44.50,34.30" stroke="#f42a0c" stroke-width="3.8" stroke-linecap="round" fill="none" filter="url(#b1)"/>
<path d="M1.00,4.40C2.17,4.67 5.73,5.52 8.00,6.00C10.27,6.48 13.50,7.08 14.60,7.30" stroke="#b82a0a" stroke-width="2.8" stroke-linecap="round" fill="none" filter="url(#b1)"/>
<path d="M30.60,2.20C31.00,2.67 32.27,4.15 33.00,5.00C33.73,5.85 34.67,6.92 35.00,7.30" stroke="#f42a0c" stroke-width="3.8" stroke-linecap="round" fill="none" filter="url(#b1)"/>
<circle cx="96.4" cy="51.1" r="2.0" fill="#f42a0c" filter="url(#b05)"/>
</g>
<circle cx="37.5" cy="29.9" r="1.9" fill="#ffe21a"/>
</g></g>
<rect x="232.5" y="269.8" width="98" height="71.7" fill="none" stroke="#8a8a35" stroke-width="1"/>
<text x="327.7" y="281.1" font-size="10.4" word-spacing="1.9" text-anchor="end" fill="#ececec">t = 28 s</text>
<g clip-path="url(#ce4)"><g transform="translate(340,270)">
<rect x="-2" y="-2" width="104" height="76" fill="#000"/>
<g filter="url(#grain3)"><polygon points="-2,-2 40,-2 70,14 102,34 102,70 70,56 35,44 10,38 -2,36" fill="#0e4e0e" filter="url(#b3)"/><polygon points="-2,-2 38,-2 48,20 45,42 20,40 -2,34" fill="#0d4a0d" filter="url(#b3)"/></g>
<g filter="url(#grain2)">
<path d="M19.00,-1.00C21.17,0.17 27.87,3.65 32.00,6.00C36.13,8.35 41.83,11.92 43.80,13.10" stroke="#34c834" stroke-width="2.99" stroke-opacity="0.75" fill="none" filter="url(#b08)"/>
<path d="M40.00,11.00C40.63,11.35 42.07,12.18 43.80,13.10C45.53,14.02 47.70,15.18 50.40,16.50C53.10,17.82 56.73,19.50 60.00,21.00C63.27,22.50 66.67,23.92 70.00,25.50C73.33,27.08 76.67,28.75 80.00,30.50C83.33,32.25 86.50,33.42 90.00,36.00C93.50,38.58 99.17,44.33 101.00,46.00" stroke="#3ad83a" stroke-width="3.22" stroke-opacity="1" fill="none" filter="url(#b08)"/>
<path d="M-1.00,13.50C0.83,13.92 6.67,15.08 10.00,16.00C13.33,16.92 15.67,17.83 19.00,19.00C22.33,20.17 26.50,21.17 30.00,23.00C33.50,24.83 37.50,28.33 40.00,30.00C42.50,31.67 44.17,32.50 45.00,33.00" stroke="#2aa82a" stroke-width="2.76" stroke-opacity="0.55" fill="none" filter="url(#b08)"/>
<path d="M40.00,30.00C41.67,30.92 46.67,33.75 50.00,35.50C53.33,37.25 56.45,38.57 60.00,40.50C63.55,42.43 67.13,44.93 71.30,47.10C75.47,49.27 80.05,51.27 85.00,53.50C89.95,55.73 98.33,59.33 101.00,60.50" stroke="#3ad83a" stroke-width="3.22" stroke-opacity="1" fill="none" filter="url(#b08)"/>
<path d="M-1.00,19.00C0.83,20.00 6.18,23.05 10.00,25.00C13.82,26.95 18.07,29.37 21.90,30.70C25.73,32.03 29.98,32.35 33.00,33.00C36.02,33.65 38.00,33.93 40.00,34.60C42.00,35.27 44.17,36.60 45.00,37.00" stroke="#2aa82a" stroke-width="2.53" stroke-opacity="0.5" fill="none" filter="url(#b08)"/>
<path d="M40.00,34.60C41.67,35.50 46.67,38.10 50.00,40.00C53.33,41.90 55.83,43.67 60.00,46.00C64.17,48.33 70.33,51.83 75.00,54.00C79.67,56.17 83.67,57.08 88.00,59.00C92.33,60.92 98.83,64.42 101.00,65.50" stroke="#30c830" stroke-width="2.99" stroke-opacity="0.95" fill="none" filter="url(#b08)"/>
<path d="M2.00,23.00C3.67,24.83 8.67,30.50 12.00,34.00C15.33,37.50 18.67,40.83 22.00,44.00C25.33,47.17 28.83,50.00 32.00,53.00C35.17,56.00 39.50,60.50 41.00,62.00" stroke="#1f9a1f" stroke-width="2.07" stroke-opacity="0.5" fill="none" filter="url(#b08)"/>
<path d="M4.00,40.00C5.83,41.67 11.33,47.00 15.00,50.00C18.67,53.00 22.50,55.33 26.00,58.00C29.50,60.67 34.33,64.67 36.00,66.00" stroke="#1a8a1a" stroke-width="1.72" stroke-opacity="0.4" fill="none" filter="url(#b08)"/>
<path d="M46.00,3.00C48.33,4.00 55.83,6.17 60.00,9.00C64.17,11.83 66.83,17.33 71.00,20.00C75.17,22.67 80.00,23.17 85.00,25.00C90.00,26.83 98.33,30.00 101.00,31.00" stroke="#28b028" stroke-width="2.30" stroke-opacity="0.55" fill="none" filter="url(#b08)"/>
<path d="M-1.00,4.00C0.83,4.67 6.17,6.67 10.00,8.00C13.83,9.33 18.17,10.50 22.00,12.00C25.83,13.50 29.17,15.33 33.00,17.00C36.83,18.67 43.00,21.17 45.00,22.00" stroke="#28a828" stroke-width="2.30" stroke-opacity="0.55" fill="none" filter="url(#b08)"/>
<path d="M60.00,-1.00C62.50,-0.17 70.00,2.33 75.00,4.00C80.00,5.67 85.67,7.50 90.00,9.00C94.33,10.50 99.17,12.33 101.00,13.00" stroke="#1a8a1a" stroke-width="1.61" stroke-opacity="0.35" fill="none" filter="url(#b08)"/>
<path d="M10.00,-1.00C11.67,-0.33 16.67,1.33 20.00,3.00C23.33,4.67 26.67,6.83 30.00,9.00C33.33,11.17 36.33,13.50 40.00,16.00C43.67,18.50 50.00,22.67 52.00,24.00" stroke="#28a828" stroke-width="2.07" stroke-opacity="0.5" fill="none" filter="url(#b08)"/>
<path d="M-1.00,28.00C0.83,28.83 6.50,31.33 10.00,33.00C13.50,34.67 16.67,36.17 20.00,38.00C23.33,39.83 28.33,43.00 30.00,44.00" stroke="#1f9a1f" stroke-width="1.84" stroke-opacity="0.5" fill="none" filter="url(#b08)"/>
</g>
<g filter="url(#grain4)">
<path d="M43.80,22.60C45.67,23.50 51.47,26.27 55.00,28.00C58.53,29.73 61.83,31.33 65.00,33.00C68.17,34.67 71.20,36.45 74.00,38.00C76.80,39.55 80.50,41.58 81.80,42.30" stroke="#f42a0c" stroke-width="3.8" stroke-linecap="round" fill="none" filter="url(#b1)"/>
<path d="M87.60,45.30C89.30,46.15 96.10,49.55 97.80,50.40" stroke="#f42a0c" stroke-width="4.2" stroke-linecap="round" fill="none" filter="url(#b1)"/>
<path d="M42.30,32.10C43.42,32.92 46.57,35.42 49.00,37.00C51.43,38.58 55.58,40.83 56.90,41.60" stroke="#e8500c" stroke-width="3.6" stroke-linecap="round" fill="none" filter="url(#b1)"/>
<path d="M70.00,49.60C71.67,50.00 76.58,51.27 80.00,52.00C83.42,52.73 88.75,53.67 90.50,54.00" stroke="#b0600e" stroke-width="3.2" stroke-linecap="round" fill="none" filter="url(#b1)"/>
<circle cx="29.2" cy="4.4" r="2.75" fill="#a8180a" filter="url(#b05)"/>
<path d="M0.00,5.80C1.67,6.33 6.83,7.78 10.00,9.00C13.17,10.22 17.50,12.42 19.00,13.10" stroke="#b03a0a" stroke-width="2.8" stroke-linecap="round" fill="none" filter="url(#b1)"/>
</g>
<circle cx="49.2" cy="37.7" r="1.9" fill="#ffe21a"/>
</g></g>
<rect x="340.5" y="269.8" width="98" height="71.7" fill="none" stroke="#8a8a35" stroke-width="1"/>
<text x="435.7" y="281.1" font-size="10.4" word-spacing="1.9" text-anchor="end" fill="#ececec">t = 55 s</text>
<text x="18.5" y="330.8" font-size="10.3" text-anchor="start" font-weight="normal" fill="#eee" >2 µm</text>
<rect x="21.5" y="334.2" width="16.7" height="3" fill="#fff"/>
<g clip-path="url(#ceo)"><g transform="translate(17,349.3) scale(1.98,2.01)">
<rect x="-2" y="-2" width="104" height="76" fill="#000"/>
<g filter="url(#grain3)"><polygon points="-2,-2 40,-2 70,14 102,34 102,70 70,56 35,44 10,38 -2,36" fill="#0e4e0e" filter="url(#b3)"/><polygon points="-2,-2 38,-2 48,20 45,42 20,40 -2,34" fill="#0d4a0d" filter="url(#b3)"/></g>
<g filter="url(#grain2)">
<path d="M19.00,-1.00C21.17,0.17 27.87,3.65 32.00,6.00C36.13,8.35 41.83,11.92 43.80,13.10" stroke="#34c834" stroke-width="2.99" stroke-opacity="0.75" fill="none" filter="url(#b08)"/>
<path d="M40.00,11.00C40.63,11.35 42.07,12.18 43.80,13.10C45.53,14.02 47.70,15.18 50.40,16.50C53.10,17.82 56.73,19.50 60.00,21.00C63.27,22.50 66.67,23.92 70.00,25.50C73.33,27.08 76.67,28.75 80.00,30.50C83.33,32.25 86.50,33.42 90.00,36.00C93.50,38.58 99.17,44.33 101.00,46.00" stroke="#3ad83a" stroke-width="3.22" stroke-opacity="1" fill="none" filter="url(#b08)"/>
<path d="M-1.00,13.50C0.83,13.92 6.67,15.08 10.00,16.00C13.33,16.92 15.67,17.83 19.00,19.00C22.33,20.17 26.50,21.17 30.00,23.00C33.50,24.83 37.50,28.33 40.00,30.00C42.50,31.67 44.17,32.50 45.00,33.00" stroke="#2aa82a" stroke-width="2.76" stroke-opacity="0.55" fill="none" filter="url(#b08)"/>
<path d="M40.00,30.00C41.67,30.92 46.67,33.75 50.00,35.50C53.33,37.25 56.45,38.57 60.00,40.50C63.55,42.43 67.13,44.93 71.30,47.10C75.47,49.27 80.05,51.27 85.00,53.50C89.95,55.73 98.33,59.33 101.00,60.50" stroke="#3ad83a" stroke-width="3.22" stroke-opacity="1" fill="none" filter="url(#b08)"/>
<path d="M-1.00,19.00C0.83,20.00 6.18,23.05 10.00,25.00C13.82,26.95 18.07,29.37 21.90,30.70C25.73,32.03 29.98,32.35 33.00,33.00C36.02,33.65 38.00,33.93 40.00,34.60C42.00,35.27 44.17,36.60 45.00,37.00" stroke="#2aa82a" stroke-width="2.53" stroke-opacity="0.5" fill="none" filter="url(#b08)"/>
<path d="M40.00,34.60C41.67,35.50 46.67,38.10 50.00,40.00C53.33,41.90 55.83,43.67 60.00,46.00C64.17,48.33 70.33,51.83 75.00,54.00C79.67,56.17 83.67,57.08 88.00,59.00C92.33,60.92 98.83,64.42 101.00,65.50" stroke="#30c830" stroke-width="2.99" stroke-opacity="0.95" fill="none" filter="url(#b08)"/>
<path d="M2.00,23.00C3.67,24.83 8.67,30.50 12.00,34.00C15.33,37.50 18.67,40.83 22.00,44.00C25.33,47.17 28.83,50.00 32.00,53.00C35.17,56.00 39.50,60.50 41.00,62.00" stroke="#1f9a1f" stroke-width="2.07" stroke-opacity="0.5" fill="none" filter="url(#b08)"/>
<path d="M4.00,40.00C5.83,41.67 11.33,47.00 15.00,50.00C18.67,53.00 22.50,55.33 26.00,58.00C29.50,60.67 34.33,64.67 36.00,66.00" stroke="#1a8a1a" stroke-width="1.72" stroke-opacity="0.4" fill="none" filter="url(#b08)"/>
<path d="M46.00,3.00C48.33,4.00 55.83,6.17 60.00,9.00C64.17,11.83 66.83,17.33 71.00,20.00C75.17,22.67 80.00,23.17 85.00,25.00C90.00,26.83 98.33,30.00 101.00,31.00" stroke="#28b028" stroke-width="2.30" stroke-opacity="0.55" fill="none" filter="url(#b08)"/>
<path d="M-1.00,4.00C0.83,4.67 6.17,6.67 10.00,8.00C13.83,9.33 18.17,10.50 22.00,12.00C25.83,13.50 29.17,15.33 33.00,17.00C36.83,18.67 43.00,21.17 45.00,22.00" stroke="#28a828" stroke-width="2.30" stroke-opacity="0.55" fill="none" filter="url(#b08)"/>
<path d="M60.00,-1.00C62.50,-0.17 70.00,2.33 75.00,4.00C80.00,5.67 85.67,7.50 90.00,9.00C94.33,10.50 99.17,12.33 101.00,13.00" stroke="#1a8a1a" stroke-width="1.61" stroke-opacity="0.35" fill="none" filter="url(#b08)"/>
<path d="M10.00,-1.00C11.67,-0.33 16.67,1.33 20.00,3.00C23.33,4.67 26.67,6.83 30.00,9.00C33.33,11.17 36.33,13.50 40.00,16.00C43.67,18.50 50.00,22.67 52.00,24.00" stroke="#28a828" stroke-width="2.07" stroke-opacity="0.5" fill="none" filter="url(#b08)"/>
<path d="M-1.00,28.00C0.83,28.83 6.50,31.33 10.00,33.00C13.50,34.67 16.67,36.17 20.00,38.00C23.33,39.83 28.33,43.00 30.00,44.00" stroke="#1f9a1f" stroke-width="1.84" stroke-opacity="0.5" fill="none" filter="url(#b08)"/>
</g>
<g filter="url(#grain4)">
<path d="M40.90,19.00C41.75,19.50 44.32,20.92 46.00,22.00C47.68,23.08 50.17,24.92 51.00,25.50" stroke="#f42a0c" stroke-width="3.8" stroke-linecap="round" fill="none" filter="url(#b1)"/>
<path d="M54.00,27.50C55.00,28.08 57.83,29.83 60.00,31.00C62.17,32.17 64.83,33.33 67.00,34.50C69.17,35.67 70.90,36.83 73.00,38.00C75.10,39.17 78.50,40.92 79.60,41.50" stroke="#f42a0c" stroke-width="3.8" stroke-linecap="round" fill="none" filter="url(#b1)"/>
<path d="M46.70,38.00C47.25,38.22 48.62,38.77 50.00,39.30C51.38,39.83 52.87,40.28 55.00,41.20C57.13,42.12 61.50,44.20 62.80,44.80" stroke="#f42a0c" stroke-width="3.8" stroke-linecap="round" fill="none" filter="url(#b1)"/>
<path d="M0.00,5.80C1.33,6.08 5.50,6.88 8.00,7.50C10.50,8.12 13.83,9.17 15.00,9.50" stroke="#b82a0a" stroke-width="2.8" stroke-linecap="round" fill="none" filter="url(#b1)"/>
<path d="M30.00,1.50C30.50,1.92 32.17,3.15 33.00,4.00C33.83,4.85 34.67,6.17 35.00,6.60" stroke="#f42a0c" stroke-width="3.5" stroke-linecap="round" fill="none" filter="url(#b1)"/>
<circle cx="2.9" cy="13.1" r="1.4" fill="#a02a0a" filter="url(#b05)"/>
<path d="M87.60,55.50C89.30,56.47 96.10,60.33 97.80,61.30" stroke="#902a0a" stroke-width="2.5" stroke-linecap="round" fill="none" filter="url(#b1)"/>
</g>
</g>
<g stroke="#e8c21a" stroke-width="0.8" fill="none">
<path d="M67.6,395.4 L80,398 L90.7,409.5 L100,415 L115.8,425.6 L124.2,432.3 L105,420 L95,414 L80,405 Z"/>
<path d="M90,412 L100,418 L110,423 L118,428 M92,414 L102,420 L112,425 L120,431" stroke-dasharray="2,1"/>
</g>
<circle cx="67.6" cy="395.4" r="3.5" fill="#ffc20e"/>
<circle cx="90.7" cy="409.5" r="3.5" fill="#ffc20e"/>
<circle cx="115.8" cy="425.6" r="3.5" fill="#ffc20e"/>
<circle cx="124.2" cy="432.3" r="3.5" fill="#ffc20e"/>
</g>
<rect x="18.5" y="351.6" width="195" height="141.6" fill="none" stroke="#a8a828" stroke-width="0.9"/>
<text x="211.6" y="361.7" font-size="11.4" letter-spacing="0.25" text-anchor="end" fill="#eee">overlap</text>
<text x="28.5" y="481" font-size="10.3" text-anchor="start" font-weight="normal" fill="#eee" >2 µm</text>
<rect x="24.2" y="485" width="31.2" height="2.8" fill="#fff"/>
<rect x="252" y="350.6" width="187.5" height="134" fill="#fff" stroke="#aaa" stroke-width="1.1"/>
<path d="M274.1,358.4 L429.1,457.8 M270.6,364.1 L277.6,353 M425.6,463.6 L433.4,452.6" stroke="#0a1ad2" stroke-width="2" fill="none"/>
<text x="360" y="401.8" font-size="14.2" font-weight="bold" text-anchor="middle" fill="#0a10d8" stroke="#0a10d8" stroke-width="0.35" transform="translate(360,0) scale(1.08,1) translate(-360,0)">D</text>
<polyline points="268.0,371.2 279.7,386.7 288.1,397.9 318.0,414.0 335.0,420.0" stroke="#f59a1a" stroke-width="0.9" fill="none"/>
<polyline points="268.0,371.2 289.9,383.8 301.8,387.5 321.0,402.7 330.0,408.0" stroke="#f59a1a" stroke-width="0.9" fill="none"/>
<polyline points="317.1,403.5 317.5,409.9 319.0,405.6 320.6,416.7 321.1,402.7 321.7,417.7 323.5,413.7 324.6,411.6 325.0,404.5 325.4,404.4 325.3,401.4 326.1,415.4 326.5,414.7 328.3,406.9 329.4,419.2 331.3,415.9 333.1,421.9 334.3,415.0 334.6,415.2 335.3,413.6 336.1,415.3 337.3,428.6 337.3,418.9 341.0,419.5 341.3,424.2 341.6,424.9 344.6,428.6 345.8,434.6 345.8,424.6 346.4,419.5 347.0,424.3 348.8,430.4 350.2,429.5 350.6,440.6 352.0,428.8 352.8,430.5 353.0,431.0 353.5,427.7 354.2,426.1 356.6,435.8 357.0,426.4 357.3,432.4 357.7,433.1 357.8,429.8 359.5,433.4 359.4,428.0 361.3,431.3 361.4,429.8 361.8,429.6 361.9,433.7 362.7,435.8 364.8,435.7 365.1,432.2 368.0,436.7 368.7,441.8 369.5,439.0 369.9,431.6 370.8,432.0 371.3,433.8 371.7,439.1 372.0,442.9 372.3,434.6 372.7,433.9 374.7,438.2 375.1,438.1 375.9,438.5 377.1,443.0 377.7,439.0 378.4,442.3 379.3,450.1 381.7,442.9 382.7,439.6 385.7,446.3 387.1,444.1 388.9,442.0 390.1,447.1 392.3,448.6 393.1,444.2 394.3,454.9 394.9,446.9 397.0,449.1 397.9,445.9 398.4,446.1 398.8,451.3 399.8,452.2 403.3,456.7 403.4,455.6 403.5,454.0 404.8,459.6 405.2,451.9 406.5,456.0 408.2,455.5 408.2,462.2 408.3,460.5 410.6,465.8 411.1,464.4 413.8,466.9 414.2,465.8 414.6,462.4 414.9,466.5 415.2,466.0 415.8,467.1 416.7,467.6 416.6,468.8 417.6,465.9 419.0,470.0 418.9,467.4 419.8,469.4" stroke="#f59a1a" stroke-width="0.6" fill="none"/>
<circle cx="268.0" cy="371.2" r="2.3" fill="#ffc40a" stroke="#ff9c00" stroke-width="0.6"/>
<circle cx="279.7" cy="386.7" r="2.3" fill="#ffc40a" stroke="#ff9c00" stroke-width="0.6"/>
<circle cx="288.1" cy="397.9" r="2.3" fill="#ffc40a" stroke="#ff9c00" stroke-width="0.6"/>
<circle cx="289.9" cy="383.8" r="2.3" fill="#ffc40a" stroke="#ff9c00" stroke-width="0.6"/>
<circle cx="301.8" cy="387.5" r="2.3" fill="#ffc40a" stroke="#ff9c00" stroke-width="0.6"/>
<circle cx="317.1" cy="403.5" r="2.3" fill="#ffc40a" stroke="#ff9c00" stroke-width="0.6"/>
<circle cx="317.5" cy="409.9" r="2.3" fill="#ffc40a" stroke="#ff9c00" stroke-width="0.6"/>
<circle cx="319.0" cy="405.6" r="2.3" fill="#ffc40a" stroke="#ff9c00" stroke-width="0.6"/>
<circle cx="320.6" cy="416.7" r="2.3" fill="#ffc40a" stroke="#ff9c00" stroke-width="0.6"/>
<circle cx="321.1" cy="402.7" r="2.3" fill="#ffc40a" stroke="#ff9c00" stroke-width="0.6"/>
<circle cx="321.7" cy="417.7" r="2.3" fill="#ffc40a" stroke="#ff9c00" stroke-width="0.6"/>
<circle cx="323.5" cy="413.7" r="2.3" fill="#ffc40a" stroke="#ff9c00" stroke-width="0.6"/>
<circle cx="324.6" cy="411.6" r="2.3" fill="#ffc40a" stroke="#ff9c00" stroke-width="0.6"/>
<circle cx="325.0" cy="404.5" r="2.3" fill="#ffc40a" stroke="#ff9c00" stroke-width="0.6"/>
<circle cx="325.4" cy="404.4" r="2.3" fill="#ffc40a" stroke="#ff9c00" stroke-width="0.6"/>
<circle cx="325.3" cy="401.4" r="2.3" fill="#ffc40a" stroke="#ff9c00" stroke-width="0.6"/>
<circle cx="326.1" cy="415.4" r="2.3" fill="#ffc40a" stroke="#ff9c00" stroke-width="0.6"/>
<circle cx="326.5" cy="414.7" r="2.3" fill="#ffc40a" stroke="#ff9c00" stroke-width="0.6"/>
<circle cx="328.3" cy="406.9" r="2.3" fill="#ffc40a" stroke="#ff9c00" stroke-width="0.6"/>
<circle cx="329.4" cy="419.2" r="2.3" fill="#ffc40a" stroke="#ff9c00" stroke-width="0.6"/>
<circle cx="331.3" cy="415.9" r="2.3" fill="#ffc40a" stroke="#ff9c00" stroke-width="0.6"/>
<circle cx="333.1" cy="421.9" r="2.3" fill="#ffc40a" stroke="#ff9c00" stroke-width="0.6"/>
<circle cx="334.3" cy="415.0" r="2.3" fill="#ffc40a" stroke="#ff9c00" stroke-width="0.6"/>
<circle cx="334.6" cy="415.2" r="2.3" fill="#ffc40a" stroke="#ff9c00" stroke-width="0.6"/>
<circle cx="335.3" cy="413.6" r="2.3" fill="#ffc40a" stroke="#ff9c00" stroke-width="0.6"/>
<circle cx="336.1" cy="415.3" r="2.3" fill="#ffc40a" stroke="#ff9c00" stroke-width="0.6"/>
<circle cx="337.3" cy="428.6" r="2.3" fill="#ffc40a" stroke="#ff9c00" stroke-width="0.6"/>
<circle cx="337.3" cy="418.9" r="2.3" fill="#ffc40a" stroke="#ff9c00" stroke-width="0.6"/>
<circle cx="341.0" cy="419.5" r="2.3" fill="#ffc40a" stroke="#ff9c00" stroke-width="0.6"/>
<circle cx="341.3" cy="424.2" r="2.3" fill="#ffc40a" stroke="#ff9c00" stroke-width="0.6"/>
<circle cx="341.6" cy="424.9" r="2.3" fill="#ffc40a" stroke="#ff9c00" stroke-width="0.6"/>
<circle cx="344.6" cy="428.6" r="2.3" fill="#ffc40a" stroke="#ff9c00" stroke-width="0.6"/>
<circle cx="345.8" cy="434.6" r="2.3" fill="#ffc40a" stroke="#ff9c00" stroke-width="0.6"/>
<circle cx="345.8" cy="424.6" r="2.3" fill="#ffc40a" stroke="#ff9c00" stroke-width="0.6"/>
<circle cx="346.4" cy="419.5" r="2.3" fill="#ffc40a" stroke="#ff9c00" stroke-width="0.6"/>
<circle cx="347.0" cy="424.3" r="2.3" fill="#ffc40a" stroke="#ff9c00" stroke-width="0.6"/>
<circle cx="348.8" cy="430.4" r="2.3" fill="#ffc40a" stroke="#ff9c00" stroke-width="0.6"/>
<circle cx="350.2" cy="429.5" r="2.3" fill="#ffc40a" stroke="#ff9c00" stroke-width="0.6"/>
<circle cx="350.6" cy="440.6" r="2.3" fill="#ffc40a" stroke="#ff9c00" stroke-width="0.6"/>
<circle cx="352.0" cy="428.8" r="2.3" fill="#ffc40a" stroke="#ff9c00" stroke-width="0.6"/>
<circle cx="352.8" cy="430.5" r="2.3" fill="#ffc40a" stroke="#ff9c00" stroke-width="0.6"/>
<circle cx="353.0" cy="431.0" r="2.3" fill="#ffc40a" stroke="#ff9c00" stroke-width="0.6"/>
<circle cx="353.5" cy="427.7" r="2.3" fill="#ffc40a" stroke="#ff9c00" stroke-width="0.6"/>
<circle cx="354.2" cy="426.1" r="2.3" fill="#ffc40a" stroke="#ff9c00" stroke-width="0.6"/>
<circle cx="356.6" cy="435.8" r="2.3" fill="#ffc40a" stroke="#ff9c00" stroke-width="0.6"/>
<circle cx="357.0" cy="426.4" r="2.3" fill="#ffc40a" stroke="#ff9c00" stroke-width="0.6"/>
<circle cx="357.3" cy="432.4" r="2.3" fill="#ffc40a" stroke="#ff9c00" stroke-width="0.6"/>
<circle cx="357.7" cy="433.1" r="2.3" fill="#ffc40a" stroke="#ff9c00" stroke-width="0.6"/>
<circle cx="357.8" cy="429.8" r="2.3" fill="#ffc40a" stroke="#ff9c00" stroke-width="0.6"/>
<circle cx="359.5" cy="433.4" r="2.3" fill="#ffc40a" stroke="#ff9c00" stroke-width="0.6"/>
<circle cx="359.4" cy="428.0" r="2.3" fill="#ffc40a" stroke="#ff9c00" stroke-width="0.6"/>
<circle cx="361.3" cy="431.3" r="2.3" fill="#ffc40a" stroke="#ff9c00" stroke-width="0.6"/>
<circle cx="361.4" cy="429.8" r="2.3" fill="#ffc40a" stroke="#ff9c00" stroke-width="0.6"/>
<circle cx="361.8" cy="429.6" r="2.3" fill="#ffc40a" stroke="#ff9c00" stroke-width="0.6"/>
<circle cx="361.9" cy="433.7" r="2.3" fill="#ffc40a" stroke="#ff9c00" stroke-width="0.6"/>
<circle cx="362.7" cy="435.8" r="2.3" fill="#ffc40a" stroke="#ff9c00" stroke-width="0.6"/>
<circle cx="364.8" cy="435.7" r="2.3" fill="#ffc40a" stroke="#ff9c00" stroke-width="0.6"/>
<circle cx="365.1" cy="432.2" r="2.3" fill="#ffc40a" stroke="#ff9c00" stroke-width="0.6"/>
<circle cx="368.0" cy="436.7" r="2.3" fill="#ffc40a" stroke="#ff9c00" stroke-width="0.6"/>
<circle cx="368.7" cy="441.8" r="2.3" fill="#ffc40a" stroke="#ff9c00" stroke-width="0.6"/>
<circle cx="369.5" cy="439.0" r="2.3" fill="#ffc40a" stroke="#ff9c00" stroke-width="0.6"/>
<circle cx="369.9" cy="431.6" r="2.3" fill="#ffc40a" stroke="#ff9c00" stroke-width="0.6"/>
<circle cx="370.8" cy="432.0" r="2.3" fill="#ffc40a" stroke="#ff9c00" stroke-width="0.6"/>
<circle cx="371.3" cy="433.8" r="2.3" fill="#ffc40a" stroke="#ff9c00" stroke-width="0.6"/>
<circle cx="371.7" cy="439.1" r="2.3" fill="#ffc40a" stroke="#ff9c00" stroke-width="0.6"/>
<circle cx="372.0" cy="442.9" r="2.3" fill="#ffc40a" stroke="#ff9c00" stroke-width="0.6"/>
<circle cx="372.3" cy="434.6" r="2.3" fill="#ffc40a" stroke="#ff9c00" stroke-width="0.6"/>
<circle cx="372.7" cy="433.9" r="2.3" fill="#ffc40a" stroke="#ff9c00" stroke-width="0.6"/>
<circle cx="374.7" cy="438.2" r="2.3" fill="#ffc40a" stroke="#ff9c00" stroke-width="0.6"/>
<circle cx="375.1" cy="438.1" r="2.3" fill="#ffc40a" stroke="#ff9c00" stroke-width="0.6"/>
<circle cx="375.9" cy="438.5" r="2.3" fill="#ffc40a" stroke="#ff9c00" stroke-width="0.6"/>
<circle cx="377.1" cy="443.0" r="2.3" fill="#ffc40a" stroke="#ff9c00" stroke-width="0.6"/>
<circle cx="377.7" cy="439.0" r="2.3" fill="#ffc40a" stroke="#ff9c00" stroke-width="0.6"/>
<circle cx="378.4" cy="442.3" r="2.3" fill="#ffc40a" stroke="#ff9c00" stroke-width="0.6"/>
<circle cx="379.3" cy="450.1" r="2.3" fill="#ffc40a" stroke="#ff9c00" stroke-width="0.6"/>
<circle cx="381.7" cy="442.9" r="2.3" fill="#ffc40a" stroke="#ff9c00" stroke-width="0.6"/>
<circle cx="382.7" cy="439.6" r="2.3" fill="#ffc40a" stroke="#ff9c00" stroke-width="0.6"/>
<circle cx="385.7" cy="446.3" r="2.3" fill="#ffc40a" stroke="#ff9c00" stroke-width="0.6"/>
<circle cx="387.1" cy="444.1" r="2.3" fill="#ffc40a" stroke="#ff9c00" stroke-width="0.6"/>
<circle cx="388.9" cy="442.0" r="2.3" fill="#ffc40a" stroke="#ff9c00" stroke-width="0.6"/>
<circle cx="390.1" cy="447.1" r="2.3" fill="#ffc40a" stroke="#ff9c00" stroke-width="0.6"/>
<circle cx="392.3" cy="448.6" r="2.3" fill="#ffc40a" stroke="#ff9c00" stroke-width="0.6"/>
<circle cx="393.1" cy="444.2" r="2.3" fill="#ffc40a" stroke="#ff9c00" stroke-width="0.6"/>
<circle cx="394.3" cy="454.9" r="2.3" fill="#ffc40a" stroke="#ff9c00" stroke-width="0.6"/>
<circle cx="394.9" cy="446.9" r="2.3" fill="#ffc40a" stroke="#ff9c00" stroke-width="0.6"/>
<circle cx="397.0" cy="449.1" r="2.3" fill="#ffc40a" stroke="#ff9c00" stroke-width="0.6"/>
<circle cx="397.9" cy="445.9" r="2.3" fill="#ffc40a" stroke="#ff9c00" stroke-width="0.6"/>
<circle cx="398.4" cy="446.1" r="2.3" fill="#ffc40a" stroke="#ff9c00" stroke-width="0.6"/>
<circle cx="398.8" cy="451.3" r="2.3" fill="#ffc40a" stroke="#ff9c00" stroke-width="0.6"/>
<circle cx="399.8" cy="452.2" r="2.3" fill="#ffc40a" stroke="#ff9c00" stroke-width="0.6"/>
<circle cx="403.3" cy="456.7" r="2.3" fill="#ffc40a" stroke="#ff9c00" stroke-width="0.6"/>
<circle cx="403.4" cy="455.6" r="2.3" fill="#ffc40a" stroke="#ff9c00" stroke-width="0.6"/>
<circle cx="403.5" cy="454.0" r="2.3" fill="#ffc40a" stroke="#ff9c00" stroke-width="0.6"/>
<circle cx="404.8" cy="459.6" r="2.3" fill="#ffc40a" stroke="#ff9c00" stroke-width="0.6"/>
<circle cx="405.2" cy="451.9" r="2.3" fill="#ffc40a" stroke="#ff9c00" stroke-width="0.6"/>
<circle cx="406.5" cy="456.0" r="2.3" fill="#ffc40a" stroke="#ff9c00" stroke-width="0.6"/>
<circle cx="408.2" cy="455.5" r="2.3" fill="#ffc40a" stroke="#ff9c00" stroke-width="0.6"/>
<circle cx="408.2" cy="462.2" r="2.3" fill="#ffc40a" stroke="#ff9c00" stroke-width="0.6"/>
<circle cx="408.3" cy="460.5" r="2.3" fill="#ffc40a" stroke="#ff9c00" stroke-width="0.6"/>
<circle cx="410.6" cy="465.8" r="2.3" fill="#ffc40a" stroke="#ff9c00" stroke-width="0.6"/>
<circle cx="411.1" cy="464.4" r="2.3" fill="#ffc40a" stroke="#ff9c00" stroke-width="0.6"/>
<circle cx="413.8" cy="466.9" r="2.3" fill="#ffc40a" stroke="#ff9c00" stroke-width="0.6"/>
<circle cx="414.2" cy="465.8" r="2.3" fill="#ffc40a" stroke="#ff9c00" stroke-width="0.6"/>
<circle cx="414.6" cy="462.4" r="2.3" fill="#ffc40a" stroke="#ff9c00" stroke-width="0.6"/>
<circle cx="414.9" cy="466.5" r="2.3" fill="#ffc40a" stroke="#ff9c00" stroke-width="0.6"/>
<circle cx="415.2" cy="466.0" r="2.3" fill="#ffc40a" stroke="#ff9c00" stroke-width="0.6"/>
<circle cx="415.8" cy="467.1" r="2.3" fill="#ffc40a" stroke="#ff9c00" stroke-width="0.6"/>
<circle cx="416.7" cy="467.6" r="2.3" fill="#ffc40a" stroke="#ff9c00" stroke-width="0.6"/>
<circle cx="416.6" cy="468.8" r="2.3" fill="#ffc40a" stroke="#ff9c00" stroke-width="0.6"/>
<circle cx="417.6" cy="465.9" r="2.3" fill="#ffc40a" stroke="#ff9c00" stroke-width="0.6"/>
<circle cx="419.0" cy="470.0" r="2.3" fill="#ffc40a" stroke="#ff9c00" stroke-width="0.6"/>
<circle cx="418.9" cy="467.4" r="2.3" fill="#ffc40a" stroke="#ff9c00" stroke-width="0.6"/>
<circle cx="419.8" cy="469.4" r="2.3" fill="#ffc40a" stroke="#ff9c00" stroke-width="0.6"/>
<circle cx="397.3" cy="450.1" r="3.4" fill="#ff9510"/>
<circle cx="402.8" cy="460.4" r="3.4" fill="#ff9510"/>
<text x="266.7" y="472.3" font-size="10.2" text-anchor="start" font-weight="normal" fill="#000" >1 µm</text>
<rect x="259.5" y="475.5" width="37.9" height="3.2" fill="#000"/>
<text x="345.6" y="496" font-size="10.2" text-anchor="middle" font-weight="normal" fill="#222" >ΔX</text>
<text x="0" y="0" font-size="10.2" text-anchor="middle" font-weight="normal" fill="#222" transform="translate(247,417) rotate(-90)">ΔY</text>
</svg></body></html>
